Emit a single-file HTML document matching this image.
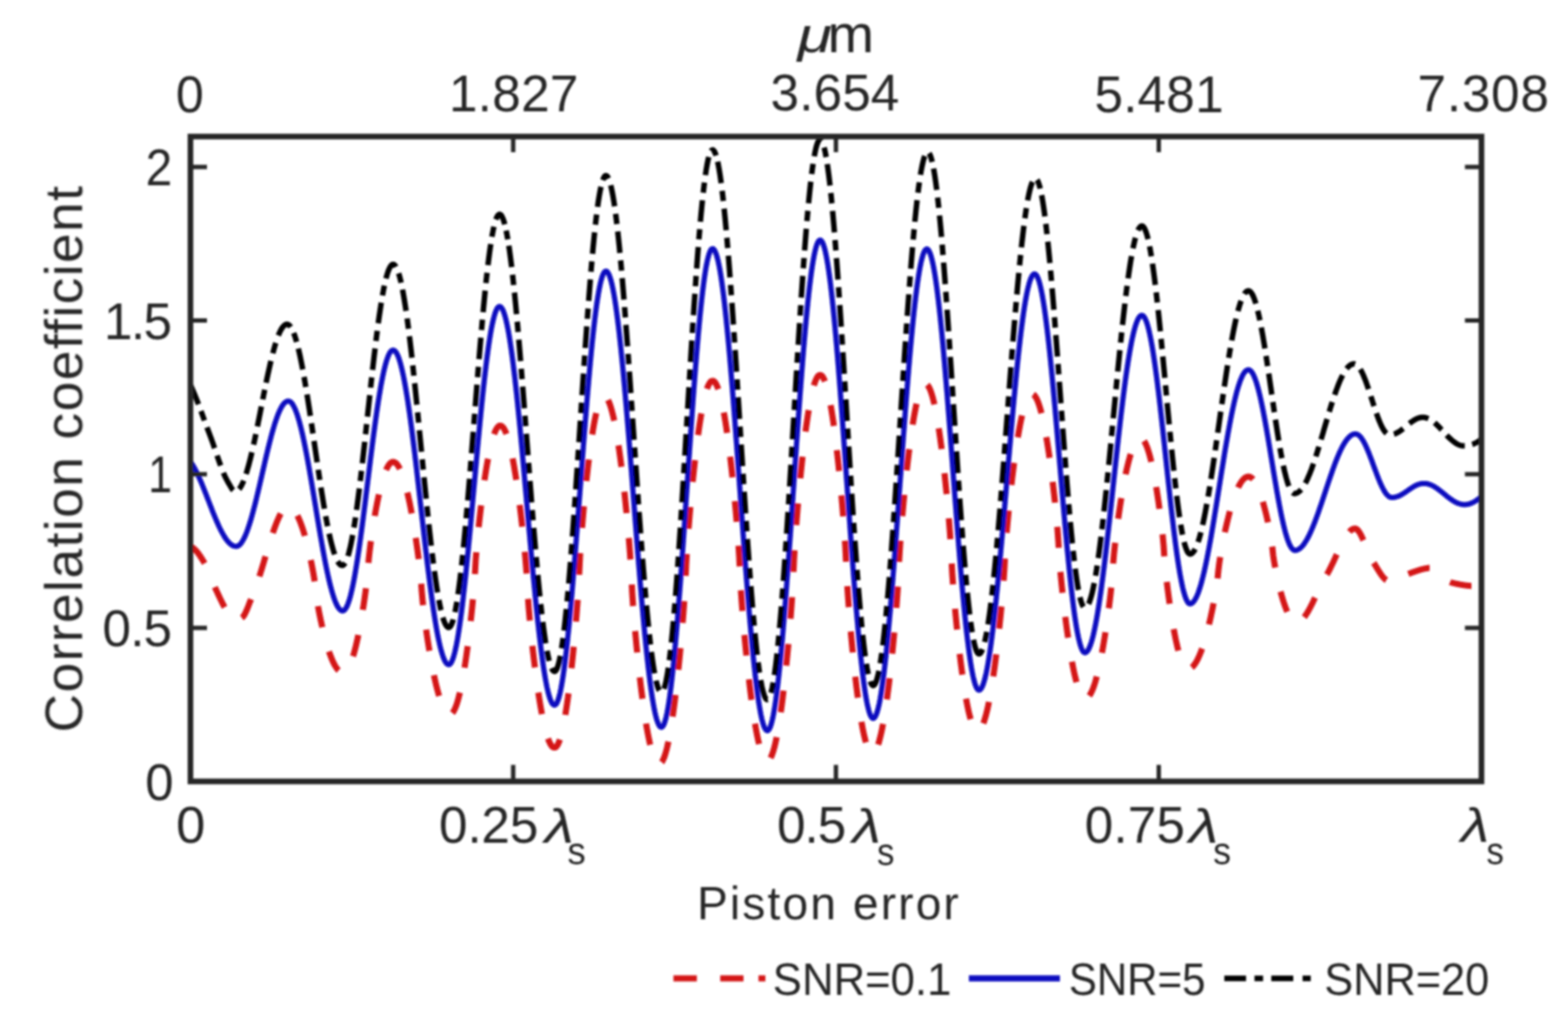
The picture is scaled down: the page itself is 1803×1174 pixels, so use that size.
<!DOCTYPE html><html><head><meta charset="utf-8"><title>Correlation coefficient vs piston error</title>
<style>html,body{margin:0;padding:0;background:#fff;overflow:hidden;}svg{display:block;}text{font-family:"Liberation Sans", "DejaVu Sans", sans-serif;fill:#262626;}</style></head><body>
<svg width="1803" height="1174" viewBox="0 0 1803 1174">
<rect width="1803" height="1174" fill="#fff"/>
<filter id="bl" x="0" y="0" width="100%" height="100%" filterUnits="userSpaceOnUse"><feGaussianBlur stdDeviation="1"/></filter>
<g filter="url(#bl)">
<defs><clipPath id="ax"><rect x="219.0" y="157.0" width="1484.5" height="741.5"/></clipPath></defs>
<g clip-path="url(#ax)" fill="none" stroke-linejoin="round">
<path d="M219.0 628.2 L220.0 628.8 L221.0 629.4 L222.0 630.1 L223.0 630.9 L224.0 631.8 L225.0 632.8 L226.0 633.9 L227.0 635.1 L228.0 636.4 L229.0 637.8 L230.0 639.2 L231.0 640.7 L232.0 642.3 L233.0 643.9 L234.0 645.5 L235.0 647.2 L236.0 648.9 L237.0 650.8 L238.0 652.9 L239.0 655.1 L240.0 657.5 L241.0 660.0 L242.0 662.5 L243.0 665.1 L244.0 667.6 L245.0 670.2 L246.0 672.6 L247.0 675.0 L248.0 677.2 L249.0 679.4 L250.0 681.5 L251.0 683.7 L252.0 685.8 L253.0 687.9 L254.0 690.0 L255.0 692.1 L256.0 694.0 L257.0 696.0 L258.0 697.8 L259.0 699.7 L260.0 701.7 L261.0 703.9 L262.0 706.0 L263.0 708.1 L264.0 710.0 L265.0 711.7 L266.0 713.0 L267.0 713.8 L268.0 714.1 L269.0 714.1 L270.0 713.9 L271.0 713.7 L272.0 713.4 L273.0 713.0 L274.0 712.6 L275.0 712.1 L276.0 711.5 L277.0 710.9 L278.0 710.3 L279.0 709.6 L280.0 708.5 L281.0 707.0 L282.0 705.1 L283.0 703.0 L284.0 700.7 L285.0 698.2 L286.0 695.7 L287.0 693.1 L288.0 690.6 L289.0 688.2 L290.0 685.9 L291.0 683.5 L292.0 681.0 L293.0 678.3 L294.0 675.6 L295.0 672.7 L296.0 669.8 L297.0 666.8 L298.0 663.7 L299.0 660.5 L300.0 657.3 L301.0 654.1 L302.0 650.8 L303.0 647.5 L304.0 644.1 L305.0 640.8 L306.0 637.5 L307.0 634.1 L308.0 630.8 L309.0 627.6 L310.0 624.3 L311.0 621.1 L312.0 618.0 L313.0 615.0 L314.0 612.0 L315.0 609.1 L316.0 606.3 L317.0 603.6 L318.0 601.0 L319.0 598.6 L320.0 596.3 L321.0 594.1 L322.0 592.1 L323.0 590.2 L324.0 588.6 L325.0 587.1 L326.0 585.7 L327.0 584.6 L328.0 583.7 L329.0 583.0 L330.0 582.6 L331.0 582.4 L332.0 582.4 L333.0 582.6 L334.0 583.0 L335.0 583.6 L336.0 584.3 L337.0 585.3 L338.0 586.5 L339.0 587.8 L340.0 589.3 L341.0 591.0 L342.0 592.9 L343.0 595.0 L344.0 597.2 L345.0 599.6 L346.0 602.2 L347.0 605.0 L348.0 607.9 L349.0 611.0 L350.0 614.3 L351.0 617.8 L352.0 621.4 L353.0 625.2 L354.0 629.2 L355.0 633.3 L356.0 637.7 L357.0 642.2 L358.0 647.0 L359.0 652.0 L360.0 657.4 L361.0 663.1 L362.0 669.6 L363.0 678.7 L364.0 686.9 L365.0 693.3 L366.0 699.0 L367.0 704.3 L368.0 709.3 L369.0 714.0 L370.0 718.6 L371.0 722.9 L372.0 727.0 L373.0 731.0 L374.0 734.8 L375.0 738.4 L376.0 741.8 L377.0 745.1 L378.0 748.2 L379.0 751.1 L380.0 753.8 L381.0 756.4 L382.0 758.8 L383.0 761.1 L384.0 763.1 L385.0 765.0 L386.0 766.6 L387.0 768.1 L388.0 769.5 L389.0 770.6 L390.0 771.5 L391.0 772.3 L392.0 772.9 L393.0 773.2 L394.0 773.4 L395.0 773.4 L396.0 773.1 L397.0 772.5 L398.0 771.7 L399.0 770.5 L400.0 769.1 L401.0 767.4 L402.0 765.4 L403.0 763.1 L404.0 760.5 L405.0 757.7 L406.0 754.6 L407.0 751.2 L408.0 747.5 L409.0 743.6 L410.0 739.4 L411.0 735.0 L412.0 730.3 L413.0 725.3 L414.0 720.1 L415.0 714.6 L416.0 708.8 L417.0 702.8 L418.0 696.4 L419.0 689.7 L420.0 682.6 L421.0 674.9 L422.0 666.4 L423.0 656.2 L424.0 642.9 L425.0 633.8 L426.0 625.8 L427.0 618.4 L428.0 611.5 L429.0 604.9 L430.0 598.7 L431.0 592.8 L432.0 587.2 L433.0 581.8 L434.0 576.7 L435.0 571.9 L436.0 567.3 L437.0 563.0 L438.0 559.0 L439.0 555.2 L440.0 551.7 L441.0 548.4 L442.0 545.4 L443.0 542.7 L444.0 540.3 L445.0 538.2 L446.0 536.3 L447.0 534.7 L448.0 533.4 L449.0 532.4 L450.0 531.7 L451.0 531.3 L452.0 531.1 L453.0 531.3 L454.0 531.7 L455.0 532.3 L456.0 533.3 L457.0 534.4 L458.0 535.9 L459.0 537.6 L460.0 539.6 L461.0 541.9 L462.0 544.4 L463.0 547.1 L464.0 550.1 L465.0 553.4 L466.0 556.9 L467.0 560.7 L468.0 564.7 L469.0 568.9 L470.0 573.4 L471.0 578.1 L472.0 583.1 L473.0 588.3 L474.0 593.8 L475.0 599.5 L476.0 605.4 L477.0 611.6 L478.0 618.1 L479.0 624.9 L480.0 632.0 L481.0 639.5 L482.0 647.5 L483.0 656.2 L484.0 666.0 L485.0 680.3 L486.0 691.4 L487.0 700.5 L488.0 708.8 L489.0 716.5 L490.0 723.8 L491.0 730.8 L492.0 737.4 L493.0 743.8 L494.0 749.8 L495.0 755.7 L496.0 761.2 L497.0 766.6 L498.0 771.7 L499.0 776.5 L500.0 781.1 L501.0 785.5 L502.0 789.6 L503.0 793.5 L504.0 797.1 L505.0 800.5 L506.0 803.7 L507.0 806.5 L508.0 809.2 L509.0 811.5 L510.0 813.7 L511.0 815.5 L512.0 817.1 L513.0 818.4 L514.0 819.5 L515.0 820.3 L516.0 820.8 L517.0 821.1 L518.0 821.1 L519.0 820.7 L520.0 819.9 L521.0 818.7 L522.0 817.2 L523.0 815.2 L524.0 812.9 L525.0 810.1 L526.0 807.0 L527.0 803.5 L528.0 799.7 L529.0 795.5 L530.0 790.9 L531.0 785.9 L532.0 780.6 L533.0 774.9 L534.0 768.9 L535.0 762.5 L536.0 755.7 L537.0 748.6 L538.0 741.1 L539.0 733.3 L540.0 725.1 L541.0 716.4 L542.0 707.3 L543.0 697.6 L544.0 687.2 L545.0 675.8 L546.0 662.3 L547.0 643.8 L548.0 631.2 L549.0 620.1 L550.0 610.0 L551.0 600.5 L552.0 591.5 L553.0 583.0 L554.0 574.9 L555.0 567.1 L556.0 559.8 L557.0 552.8 L558.0 546.2 L559.0 539.9 L560.0 533.9 L561.0 528.4 L562.0 523.2 L563.0 518.3 L564.0 513.8 L565.0 509.7 L566.0 505.9 L567.0 502.6 L568.0 499.6 L569.0 497.0 L570.0 494.7 L571.0 492.9 L572.0 491.4 L573.0 490.4 L574.0 489.7 L575.0 489.4 L576.0 489.6 L577.0 490.0 L578.0 490.9 L579.0 492.1 L580.0 493.8 L581.0 495.7 L582.0 498.1 L583.0 500.8 L584.0 503.9 L585.0 507.3 L586.0 511.1 L587.0 515.3 L588.0 519.8 L589.0 524.6 L590.0 529.8 L591.0 535.4 L592.0 541.3 L593.0 547.5 L594.0 554.1 L595.0 561.0 L596.0 568.2 L597.0 575.8 L598.0 583.8 L599.0 592.1 L600.0 600.8 L601.0 609.9 L602.0 619.5 L603.0 629.6 L604.0 640.5 L605.0 652.4 L606.0 666.4 L607.0 685.8 L608.0 699.2 L609.0 710.8 L610.0 721.5 L611.0 731.6 L612.0 741.1 L613.0 750.1 L614.0 758.7 L615.0 766.9 L616.0 774.8 L617.0 782.3 L618.0 789.5 L619.0 796.3 L620.0 802.8 L621.0 809.0 L622.0 814.8 L623.0 820.3 L624.0 825.4 L625.0 830.2 L626.0 834.7 L627.0 838.7 L628.0 842.5 L629.0 845.8 L630.0 848.9 L631.0 851.5 L632.0 853.8 L633.0 855.7 L634.0 857.2 L635.0 858.4 L636.0 859.2 L637.0 859.6 L638.0 859.6 L639.0 859.2 L640.0 858.2 L641.0 856.8 L642.0 854.9 L643.0 852.5 L644.0 849.6 L645.0 846.2 L646.0 842.4 L647.0 838.1 L648.0 833.3 L649.0 828.0 L650.0 822.3 L651.0 816.1 L652.0 809.5 L653.0 802.5 L654.0 794.9 L655.0 787.0 L656.0 778.6 L657.0 769.7 L658.0 760.4 L659.0 750.7 L660.0 740.4 L661.0 729.6 L662.0 718.1 L663.0 706.0 L664.0 692.9 L665.0 678.3 L666.0 659.4 L667.0 638.5 L668.0 623.7 L669.0 610.4 L670.0 598.2 L671.0 586.7 L672.0 575.8 L673.0 565.5 L674.0 555.7 L675.0 546.3 L676.0 537.4 L677.0 529.0 L678.0 521.0 L679.0 513.4 L680.0 506.3 L681.0 499.7 L682.0 493.5 L683.0 487.7 L684.0 482.4 L685.0 477.6 L686.0 473.2 L687.0 469.3 L688.0 465.9 L689.0 463.0 L690.0 460.5 L691.0 458.5 L692.0 457.1 L693.0 456.1 L694.0 455.6 L695.0 455.6 L696.0 456.0 L697.0 456.8 L698.0 458.1 L699.0 459.7 L700.0 461.8 L701.0 464.2 L702.0 467.1 L703.0 470.4 L704.0 474.1 L705.0 478.1 L706.0 482.6 L707.0 487.5 L708.0 492.7 L709.0 498.4 L710.0 504.4 L711.0 510.8 L712.0 517.5 L713.0 524.7 L714.0 532.2 L715.0 540.1 L716.0 548.3 L717.0 557.0 L718.0 566.0 L719.0 575.4 L720.0 585.3 L721.0 595.7 L722.0 606.6 L723.0 618.1 L724.0 630.5 L725.0 644.1 L726.0 660.6 L727.0 682.1 L728.0 696.8 L729.0 709.7 L730.0 721.6 L731.0 732.8 L732.0 743.4 L733.0 753.6 L734.0 763.2 L735.0 772.5 L736.0 781.3 L737.0 789.8 L738.0 797.8 L739.0 805.5 L740.0 812.8 L741.0 819.8 L742.0 826.4 L743.0 832.6 L744.0 838.4 L745.0 843.8 L746.0 848.9 L747.0 853.6 L748.0 857.8 L749.0 861.7 L750.0 865.2 L751.0 868.3 L752.0 870.9 L753.0 873.2 L754.0 875.1 L755.0 876.5 L756.0 877.5 L757.0 878.2 L758.0 878.4 L759.0 878.1 L760.0 877.4 L761.0 876.3 L762.0 874.7 L763.0 872.6 L764.0 870.1 L765.0 867.1 L766.0 863.6 L767.0 859.8 L768.0 855.4 L769.0 850.6 L770.0 845.4 L771.0 839.8 L772.0 833.7 L773.0 827.2 L774.0 820.3 L775.0 813.0 L776.0 805.2 L777.0 797.1 L778.0 788.5 L779.0 779.5 L780.0 770.0 L781.0 760.1 L782.0 749.8 L783.0 738.9 L784.0 727.5 L785.0 715.5 L786.0 702.6 L787.0 688.6 L788.0 672.6 L789.0 649.3 L790.0 632.1 L791.0 617.7 L792.0 604.5 L793.0 592.3 L794.0 580.7 L795.0 569.7 L796.0 559.2 L797.0 549.1 L798.0 539.6 L799.0 530.4 L800.0 521.7 L801.0 513.4 L802.0 505.5 L803.0 498.1 L804.0 491.0 L805.0 484.4 L806.0 478.2 L807.0 472.4 L808.0 467.1 L809.0 462.2 L810.0 457.7 L811.0 453.7 L812.0 450.1 L813.0 447.0 L814.0 444.3 L815.0 442.1 L816.0 440.4 L817.0 439.1 L818.0 438.3 L819.0 437.9 L820.0 438.0 L821.0 438.5 L822.0 439.4 L823.0 440.8 L824.0 442.7 L825.0 444.9 L826.0 447.6 L827.0 450.7 L828.0 454.2 L829.0 458.2 L830.0 462.5 L831.0 467.3 L832.0 472.5 L833.0 478.1 L834.0 484.0 L835.0 490.4 L836.0 497.2 L837.0 504.4 L838.0 512.0 L839.0 519.9 L840.0 528.3 L841.0 537.0 L842.0 546.2 L843.0 555.8 L844.0 565.8 L845.0 576.3 L846.0 587.3 L847.0 598.9 L848.0 611.2 L849.0 624.6 L850.0 639.7 L851.0 661.8 L852.0 679.3 L853.0 693.6 L854.0 706.5 L855.0 718.5 L856.0 729.9 L857.0 740.7 L858.0 751.0 L859.0 760.8 L860.0 770.2 L861.0 779.2 L862.0 787.8 L863.0 796.0 L864.0 803.8 L865.0 811.2 L866.0 818.2 L867.0 824.9 L868.0 831.1 L869.0 836.9 L870.0 842.3 L871.0 847.4 L872.0 852.0 L873.0 856.2 L874.0 859.9 L875.0 863.3 L876.0 866.2 L877.0 868.7 L878.0 870.8 L879.0 872.5 L880.0 873.7 L881.0 874.5 L882.0 874.8 L883.0 874.7 L884.0 874.1 L885.0 873.1 L886.0 871.6 L887.0 869.6 L888.0 867.1 L889.0 864.2 L890.0 860.8 L891.0 857.0 L892.0 852.6 L893.0 847.9 L894.0 842.7 L895.0 837.0 L896.0 830.9 L897.0 824.4 L898.0 817.4 L899.0 810.0 L900.0 802.2 L901.0 793.9 L902.0 785.2 L903.0 776.1 L904.0 766.5 L905.0 756.5 L906.0 746.0 L907.0 735.0 L908.0 723.4 L909.0 711.2 L910.0 698.1 L911.0 683.9 L912.0 667.7 L913.0 644.0 L914.0 626.6 L915.0 612.0 L916.0 598.6 L917.0 586.1 L918.0 574.4 L919.0 563.2 L920.0 552.6 L921.0 542.4 L922.0 532.7 L923.0 523.5 L924.0 514.6 L925.0 506.2 L926.0 498.3 L927.0 490.8 L928.0 483.7 L929.0 477.0 L930.0 470.8 L931.0 465.0 L932.0 459.6 L933.0 454.7 L934.0 450.3 L935.0 446.3 L936.0 442.7 L937.0 439.7 L938.0 437.1 L939.0 434.9 L940.0 433.3 L941.0 432.1 L942.0 431.4 L943.0 431.2 L944.0 431.4 L945.0 432.1 L946.0 433.3 L947.0 435.0 L948.0 437.1 L949.0 439.7 L950.0 442.8 L951.0 446.3 L952.0 450.3 L953.0 454.8 L954.0 459.7 L955.0 465.1 L956.0 470.9 L957.0 477.2 L958.0 483.8 L959.0 491.0 L960.0 498.5 L961.0 506.5 L962.0 514.9 L963.0 523.8 L964.0 533.1 L965.0 542.8 L966.0 553.0 L967.0 563.7 L968.0 575.0 L969.0 586.8 L970.0 599.4 L971.0 613.0 L972.0 628.2 L973.0 648.8 L974.0 669.3 L975.0 684.5 L976.0 698.1 L977.0 710.7 L978.0 722.6 L979.0 733.8 L980.0 744.5 L981.0 754.7 L982.0 764.4 L983.0 773.7 L984.0 782.6 L985.0 791.0 L986.0 799.0 L987.0 806.5 L988.0 813.7 L989.0 820.4 L990.0 826.6 L991.0 832.4 L992.0 837.8 L993.0 842.7 L994.0 847.2 L995.0 851.2 L996.0 854.7 L997.0 857.8 L998.0 860.4 L999.0 862.5 L1000.0 864.2 L1001.0 865.4 L1002.0 866.1 L1003.0 866.4 L1004.0 866.1 L1005.0 865.5 L1006.0 864.3 L1007.0 862.8 L1008.0 860.7 L1009.0 858.3 L1010.0 855.4 L1011.0 852.0 L1012.0 848.2 L1013.0 844.0 L1014.0 839.4 L1015.0 834.3 L1016.0 828.8 L1017.0 822.9 L1018.0 816.5 L1019.0 809.8 L1020.0 802.7 L1021.0 795.1 L1022.0 787.2 L1023.0 778.8 L1024.0 770.0 L1025.0 760.8 L1026.0 751.2 L1027.0 741.1 L1028.0 730.5 L1029.0 719.4 L1030.0 707.6 L1031.0 695.0 L1032.0 681.2 L1033.0 665.2 L1034.0 642.5 L1035.0 626.5 L1036.0 612.7 L1037.0 600.2 L1038.0 588.4 L1039.0 577.2 L1040.0 566.7 L1041.0 556.6 L1042.0 546.9 L1043.0 537.7 L1044.0 529.0 L1045.0 520.6 L1046.0 512.6 L1047.0 505.1 L1048.0 497.9 L1049.0 491.2 L1050.0 484.9 L1051.0 479.0 L1052.0 473.5 L1053.0 468.4 L1054.0 463.7 L1055.0 459.5 L1056.0 455.7 L1057.0 452.4 L1058.0 449.5 L1059.0 447.0 L1060.0 445.0 L1061.0 443.4 L1062.0 442.3 L1063.0 441.6 L1064.0 441.4 L1065.0 441.6 L1066.0 442.3 L1067.0 443.4 L1068.0 444.9 L1069.0 446.9 L1070.0 449.2 L1071.0 452.1 L1072.0 455.3 L1073.0 459.0 L1074.0 463.1 L1075.0 467.6 L1076.0 472.5 L1077.0 477.9 L1078.0 483.6 L1079.0 489.7 L1080.0 496.3 L1081.0 503.2 L1082.0 510.5 L1083.0 518.2 L1084.0 526.3 L1085.0 534.9 L1086.0 543.8 L1087.0 553.2 L1088.0 563.0 L1089.0 573.3 L1090.0 584.2 L1091.0 595.7 L1092.0 608.2 L1093.0 622.1 L1094.0 641.0 L1095.0 659.8 L1096.0 673.8 L1097.0 686.2 L1098.0 697.8 L1099.0 708.7 L1100.0 719.0 L1101.0 728.8 L1102.0 738.2 L1103.0 747.1 L1104.0 755.6 L1105.0 763.7 L1106.0 771.4 L1107.0 778.8 L1108.0 785.7 L1109.0 792.2 L1110.0 798.4 L1111.0 804.1 L1112.0 809.4 L1113.0 814.4 L1114.0 818.9 L1115.0 823.0 L1116.0 826.6 L1117.0 829.9 L1118.0 832.7 L1119.0 835.1 L1120.0 837.1 L1121.0 838.6 L1122.0 839.7 L1123.0 840.3 L1124.0 840.6 L1125.0 840.4 L1126.0 839.8 L1127.0 838.8 L1128.0 837.4 L1129.0 835.7 L1130.0 833.5 L1131.0 831.0 L1132.0 828.1 L1133.0 824.8 L1134.0 821.1 L1135.0 817.1 L1136.0 812.7 L1137.0 807.9 L1138.0 802.8 L1139.0 797.3 L1140.0 791.4 L1141.0 785.2 L1142.0 778.6 L1143.0 771.7 L1144.0 764.4 L1145.0 756.8 L1146.0 748.8 L1147.0 740.4 L1148.0 731.7 L1149.0 722.5 L1150.0 712.9 L1151.0 702.8 L1152.0 692.1 L1153.0 680.6 L1154.0 668.0 L1155.0 652.7 L1156.0 632.7 L1157.0 619.1 L1158.0 607.1 L1159.0 596.1 L1160.0 585.7 L1161.0 575.8 L1162.0 566.5 L1163.0 557.5 L1164.0 548.9 L1165.0 540.8 L1166.0 533.0 L1167.0 525.5 L1168.0 518.4 L1169.0 511.7 L1170.0 505.3 L1171.0 499.2 L1172.0 493.6 L1173.0 488.2 L1174.0 483.3 L1175.0 478.7 L1176.0 474.4 L1177.0 470.6 L1178.0 467.1 L1179.0 464.0 L1180.0 461.3 L1181.0 459.0 L1182.0 457.0 L1183.0 455.4 L1184.0 454.3 L1185.0 453.5 L1186.0 453.1 L1187.0 453.1 L1188.0 453.5 L1189.0 454.2 L1190.0 455.3 L1191.0 456.7 L1192.0 458.6 L1193.0 460.7 L1194.0 463.3 L1195.0 466.2 L1196.0 469.4 L1197.0 473.0 L1198.0 476.9 L1199.0 481.2 L1200.0 485.9 L1201.0 490.8 L1202.0 496.1 L1203.0 501.7 L1204.0 507.7 L1205.0 514.0 L1206.0 520.6 L1207.0 527.6 L1208.0 534.8 L1209.0 542.5 L1210.0 550.5 L1211.0 558.8 L1212.0 567.6 L1213.0 576.8 L1214.0 586.6 L1215.0 597.1 L1216.0 608.7 L1217.0 622.7 L1218.0 641.0 L1219.0 653.4 L1220.0 664.4 L1221.0 674.5 L1222.0 684.0 L1223.0 693.0 L1224.0 701.6 L1225.0 709.8 L1226.0 717.6 L1227.0 725.0 L1228.0 732.1 L1229.0 738.9 L1230.0 745.4 L1231.0 751.5 L1232.0 757.3 L1233.0 762.7 L1234.0 767.9 L1235.0 772.7 L1236.0 777.1 L1237.0 781.2 L1238.0 785.0 L1239.0 788.4 L1240.0 791.5 L1241.0 794.2 L1242.0 796.6 L1243.0 798.6 L1244.0 800.2 L1245.0 801.5 L1246.0 802.4 L1247.0 802.9 L1248.0 803.1 L1249.0 803.0 L1250.0 802.5 L1251.0 801.8 L1252.0 800.8 L1253.0 799.4 L1254.0 797.8 L1255.0 795.9 L1256.0 793.7 L1257.0 791.3 L1258.0 788.5 L1259.0 785.5 L1260.0 782.1 L1261.0 778.5 L1262.0 774.7 L1263.0 770.5 L1264.0 766.1 L1265.0 761.4 L1266.0 756.5 L1267.0 751.3 L1268.0 745.8 L1269.0 740.0 L1270.0 734.0 L1271.0 727.7 L1272.0 721.1 L1273.0 714.3 L1274.0 707.1 L1275.0 699.5 L1276.0 691.5 L1277.0 683.0 L1278.0 673.7 L1279.0 663.1 L1280.0 647.7 L1281.0 636.3 L1282.0 626.8 L1283.0 618.0 L1284.0 609.9 L1285.0 602.2 L1286.0 594.9 L1287.0 587.9 L1288.0 581.3 L1289.0 574.9 L1290.0 568.8 L1291.0 563.0 L1292.0 557.4 L1293.0 552.1 L1294.0 547.1 L1295.0 542.3 L1296.0 537.8 L1297.0 533.6 L1298.0 529.6 L1299.0 526.0 L1300.0 522.6 L1301.0 519.4 L1302.0 516.6 L1303.0 514.0 L1304.0 511.7 L1305.0 509.8 L1306.0 508.1 L1307.0 506.6 L1308.0 505.5 L1309.0 504.7 L1310.0 504.2 L1311.0 503.9 L1312.0 504.0 L1313.0 504.4 L1314.0 505.2 L1315.0 506.3 L1316.0 507.8 L1317.0 509.6 L1318.0 511.7 L1319.0 514.2 L1320.0 517.1 L1321.0 520.2 L1322.0 523.7 L1323.0 527.5 L1324.0 531.7 L1325.0 536.2 L1326.0 540.9 L1327.0 546.0 L1328.0 551.5 L1329.0 557.2 L1330.0 563.2 L1331.0 569.6 L1332.0 576.3 L1333.0 583.4 L1334.0 590.9 L1335.0 598.8 L1336.0 607.2 L1337.0 616.5 L1338.0 627.0 L1339.0 642.4 L1340.0 653.7 L1341.0 663.2 L1342.0 671.9 L1343.0 679.9 L1344.0 687.5 L1345.0 694.7 L1346.0 701.5 L1347.0 708.0 L1348.0 714.2 L1349.0 720.0 L1350.0 725.5 L1351.0 730.7 L1352.0 735.6 L1353.0 740.1 L1354.0 744.4 L1355.0 748.3 L1356.0 751.9 L1357.0 755.2 L1358.0 758.1 L1359.0 760.7 L1360.0 762.9 L1361.0 764.8 L1362.0 766.4 L1363.0 767.6 L1364.0 768.5 L1365.0 769.0 L1366.0 769.2 L1367.0 769.1 L1368.0 768.8 L1369.0 768.4 L1370.0 767.8 L1371.0 767.0 L1372.0 766.0 L1373.0 764.8 L1374.0 763.5 L1375.0 761.9 L1376.0 760.2 L1377.0 758.4 L1378.0 756.3 L1379.0 754.1 L1380.0 751.7 L1381.0 749.2 L1382.0 746.4 L1383.0 743.6 L1384.0 740.5 L1385.0 737.3 L1386.0 733.9 L1387.0 730.4 L1388.0 726.7 L1389.0 722.8 L1390.0 718.8 L1391.0 714.6 L1392.0 710.2 L1393.0 705.6 L1394.0 700.9 L1395.0 695.9 L1396.0 690.7 L1397.0 685.3 L1398.0 679.5 L1399.0 673.2 L1400.0 666.0 L1401.0 655.6 L1402.0 647.5 L1403.0 640.9 L1404.0 634.9 L1405.0 629.2 L1406.0 623.9 L1407.0 618.8 L1408.0 614.0 L1409.0 609.3 L1410.0 604.9 L1411.0 600.6 L1412.0 596.5 L1413.0 592.5 L1414.0 588.7 L1415.0 585.1 L1416.0 581.7 L1417.0 578.4 L1418.0 575.2 L1419.0 572.3 L1420.0 569.5 L1421.0 566.8 L1422.0 564.4 L1423.0 562.1 L1424.0 559.9 L1425.0 558.0 L1426.0 556.2 L1427.0 554.6 L1428.0 553.1 L1429.0 551.9 L1430.0 550.8 L1431.0 549.9 L1432.0 549.2 L1433.0 548.6 L1434.0 548.3 L1435.0 548.1 L1436.0 548.1 L1437.0 548.3 L1438.0 548.7 L1439.0 549.4 L1440.0 550.2 L1441.0 551.3 L1442.0 552.6 L1443.0 554.1 L1444.0 555.8 L1445.0 557.7 L1446.0 559.8 L1447.0 562.1 L1448.0 564.6 L1449.0 567.3 L1450.0 570.2 L1451.0 573.3 L1452.0 576.6 L1453.0 580.1 L1454.0 583.8 L1455.0 587.7 L1456.0 591.7 L1457.0 596.0 L1458.0 600.6 L1459.0 605.3 L1460.0 610.4 L1461.0 615.9 L1462.0 621.9 L1463.0 629.2 L1464.0 638.7 L1465.0 645.2 L1466.0 650.9 L1467.0 656.1 L1468.0 661.0 L1469.0 665.7 L1470.0 670.1 L1471.0 674.3 L1472.0 678.2 L1473.0 682.0 L1474.0 685.6 L1475.0 689.0 L1476.0 692.2 L1477.0 695.2 L1478.0 698.0 L1479.0 700.6 L1480.0 703.0 L1481.0 705.2 L1482.0 707.2 L1483.0 709.0 L1484.0 710.6 L1485.0 712.0 L1486.0 713.2 L1487.0 714.2 L1488.0 714.9 L1489.0 715.4 L1490.0 715.8 L1491.0 715.9 L1492.0 715.8 L1493.0 715.5 L1494.0 715.1 L1495.0 714.5 L1496.0 713.7 L1497.0 712.8 L1498.0 711.8 L1499.0 710.6 L1500.0 709.3 L1501.0 707.9 L1502.0 706.4 L1503.0 704.8 L1504.0 703.2 L1505.0 701.4 L1506.0 699.6 L1507.0 697.7 L1508.0 695.7 L1509.0 693.7 L1510.0 691.7 L1511.0 689.6 L1512.0 687.5 L1513.0 685.4 L1514.0 683.3 L1515.0 681.1 L1516.0 679.0 L1517.0 676.9 L1518.0 674.9 L1519.0 672.8 L1520.0 670.9 L1521.0 668.9 L1522.0 667.0 L1523.0 665.2 L1524.0 663.5 L1525.0 661.8 L1526.0 660.2 L1527.0 658.4 L1528.0 656.6 L1529.0 654.6 L1530.0 652.7 L1531.0 650.6 L1532.0 648.5 L1533.0 646.4 L1534.0 644.3 L1535.0 642.1 L1536.0 639.9 L1537.0 637.7 L1538.0 635.6 L1539.0 633.4 L1540.0 631.3 L1541.0 629.2 L1542.0 627.1 L1543.0 625.1 L1544.0 623.2 L1545.0 621.3 L1546.0 619.5 L1547.0 617.8 L1548.0 616.2 L1549.0 614.8 L1550.0 613.4 L1551.0 612.2 L1552.0 611.0 L1553.0 610.1 L1554.0 609.3 L1555.0 608.6 L1556.0 608.2 L1557.0 607.9 L1558.0 607.8 L1559.0 608.0 L1560.0 608.5 L1561.0 609.3 L1562.0 610.5 L1563.0 611.9 L1564.0 613.5 L1565.0 615.4 L1566.0 617.4 L1567.0 619.6 L1568.0 621.9 L1569.0 624.2 L1570.0 626.7 L1571.0 629.1 L1572.0 631.6 L1573.0 634.0 L1574.0 636.4 L1575.0 638.6 L1576.0 640.8 L1577.0 642.8 L1578.0 644.6 L1579.0 646.3 L1580.0 647.8 L1581.0 649.4 L1582.0 651.0 L1583.0 652.7 L1584.0 654.3 L1585.0 655.9 L1586.0 657.5 L1587.0 659.0 L1588.0 660.5 L1589.0 661.9 L1590.0 663.2 L1591.0 664.4 L1592.0 665.4 L1593.0 666.3 L1594.0 667.1 L1595.0 667.6 L1596.0 668.1 L1597.0 668.5 L1598.0 668.8 L1599.0 669.1 L1600.0 669.4 L1601.0 669.5 L1602.0 669.6 L1603.0 669.5 L1604.0 669.3 L1605.0 669.0 L1606.0 668.6 L1607.0 668.1 L1608.0 667.5 L1609.0 666.9 L1610.0 666.2 L1611.0 665.5 L1612.0 664.7 L1613.0 664.0 L1614.0 663.2 L1615.0 662.5 L1616.0 661.8 L1617.0 661.2 L1618.0 660.6 L1619.0 660.1 L1620.0 659.7 L1621.0 659.3 L1622.0 659.0 L1623.0 658.6 L1624.0 658.2 L1625.0 657.9 L1626.0 657.5 L1627.0 657.2 L1628.0 656.8 L1629.0 656.5 L1630.0 656.1 L1631.0 655.8 L1632.0 655.5 L1633.0 655.2 L1634.0 654.9 L1635.0 654.6 L1636.0 654.4 L1637.0 654.1 L1638.0 653.9 L1639.0 653.7 L1640.0 653.5 L1641.0 653.4 L1642.0 653.2 L1643.0 653.1 L1644.0 653.1 L1645.0 653.0 L1646.0 653.0 L1647.0 653.1 L1648.0 653.3 L1649.0 653.7 L1650.0 654.3 L1651.0 654.9 L1652.0 655.7 L1653.0 656.6 L1654.0 657.5 L1655.0 658.5 L1656.0 659.5 L1657.0 660.6 L1658.0 661.6 L1659.0 662.7 L1660.0 663.7 L1661.0 664.7 L1662.0 665.7 L1663.0 666.6 L1664.0 667.4 L1665.0 668.2 L1666.0 668.8 L1667.0 669.2 L1668.0 669.6 L1669.0 669.9 L1670.0 670.1 L1671.0 670.4 L1672.0 670.6 L1673.0 670.9 L1674.0 671.1 L1675.0 671.3 L1676.0 671.5 L1677.0 671.7 L1678.0 671.9 L1679.0 672.1 L1680.0 672.3 L1681.0 672.5 L1682.0 672.6 L1683.0 672.8 L1684.0 672.9 L1685.0 673.1 L1686.0 673.2 L1687.0 673.3 L1688.0 673.4 L1689.0 673.5 L1690.0 673.6 L1691.0 673.7 L1692.0 673.7 L1693.0 673.8 L1694.0 673.8 L1695.0 673.8 L1696.0 673.9 L1697.0 673.9 L1698.0 673.9 L1699.0 673.9 L1700.0 674.0 L1701.0 674.0 L1702.0 674.0 L1703.0 674.0" stroke="#d41219" stroke-width="7" stroke-dasharray="25.7 29.9 25.7 29.9 24.1 28.0 24.1 28.0 24.1 28.0 24.8 28.8 24.8 28.8 24.8 28.8 24.8 28.8 25.2 29.3 25.2 29.3 25.2 29.3 25.2 29.3 24.6 28.5 24.6 28.5 24.6 28.5 24.6 28.5 24.6 28.5 24.6 28.5 25.1 29.1 25.1 29.1 25.1 29.1 25.1 29.1 25.1 29.1 25.1 29.1 25.1 29.1 25.1 29.1 25.1 29.1 25.1 29.1 25.1 29.1 25.1 29.1 25.1 29.1 25.0 29.0 25.0 29.0 25.0 29.0 25.0 29.0 25.0 29.0 25.0 29.0 25.0 29.0 25.0 29.0 24.8 28.8 24.8 28.8 24.8 28.8 24.8 28.8 24.8 28.8 24.8 28.8 24.8 28.8 24.8 28.8 25.1 29.1 25.1 29.1 25.1 29.1 25.1 29.1 25.1 29.1 25.1 29.1 25.1 29.1 25.1 29.1 23.8 27.6 23.8 27.6 23.8 27.6 23.8 27.6 23.8 27.6 23.8 27.6 23.8 27.6 23.8 27.6 23.8 27.6 25.0 29.0 25.0 29.0 25.0 29.0 25.0 29.0 25.0 29.0 25.0 29.0 25.0 29.0 25.0 29.0 24.2 28.1 24.2 28.1 24.2 28.1 24.2 28.1 24.2 28.1 24.2 28.1 24.2 28.1 24.2 28.1 24.2 28.1 24.5 28.4 24.5 28.4 24.5 28.4 24.5 28.4 24.5 28.4 24.5 28.4 24.5 28.4 24.5 28.4 24.1 28.0 24.1 28.0 24.1 28.0 24.1 28.0 24.1 28.0 24.1 28.0 24.1 28.0 24.1 28.0 25.6 29.7 25.6 29.7 25.6 29.7 25.6 29.7 25.6 29.7 25.6 29.7 25.6 29.7 24.1 27.9 24.1 27.9 24.1 27.9 24.1 27.9 24.1 27.9 24.1 27.9 24.1 27.9 24.0 27.8 24.0 27.8 24.0 27.8 24.0 27.8 24.0 27.8 24.0 27.8 25.4 29.5 25.4 29.5 25.4 29.5 25.4 29.5 25.4 29.5 24.9 28.9 24.9 28.9 24.9 28.9 24.9 28.9 24.4 28.3 24.4 28.3 24.4 28.3 24.4 28.3 25.8 29.9 25.8 29.9 24.7 28.6 24.7 28.6 25.5 29.6 25.0 29.0 25.0 29.0"/>
<path d="M219.0 530.9 L220.0 532.3 L221.0 533.8 L222.0 535.4 L223.0 537.1 L224.0 538.9 L225.0 540.8 L226.0 542.8 L227.0 544.9 L228.0 547.0 L229.0 549.2 L230.0 551.5 L231.0 553.8 L232.0 556.2 L233.0 558.6 L234.0 561.1 L235.0 563.6 L236.0 566.1 L237.0 568.7 L238.0 571.3 L239.0 573.9 L240.0 576.5 L241.0 579.0 L242.0 581.6 L243.0 584.2 L244.0 586.8 L245.0 589.3 L246.0 591.8 L247.0 594.2 L248.0 596.6 L249.0 599.0 L250.0 601.3 L251.0 603.5 L252.0 605.7 L253.0 607.8 L254.0 609.8 L255.0 611.7 L256.0 613.6 L257.0 615.3 L258.0 617.0 L259.0 618.5 L260.0 620.0 L261.0 621.3 L262.0 622.6 L263.0 623.7 L264.0 624.7 L265.0 625.6 L266.0 626.3 L267.0 627.0 L268.0 627.5 L269.0 627.9 L270.0 628.1 L271.0 628.2 L272.0 628.2 L273.0 628.0 L274.0 627.5 L275.0 626.9 L276.0 626.0 L277.0 624.8 L278.0 623.5 L279.0 621.9 L280.0 620.1 L281.0 618.1 L282.0 616.0 L283.0 613.6 L284.0 611.0 L285.0 608.2 L286.0 605.3 L287.0 602.2 L288.0 599.0 L289.0 595.6 L290.0 592.0 L291.0 588.4 L292.0 584.6 L293.0 580.7 L294.0 576.7 L295.0 572.6 L296.0 568.4 L297.0 564.2 L298.0 559.9 L299.0 555.6 L300.0 551.3 L301.0 546.9 L302.0 542.5 L303.0 538.2 L304.0 533.8 L305.0 529.5 L306.0 525.2 L307.0 521.0 L308.0 516.8 L309.0 512.7 L310.0 508.8 L311.0 504.9 L312.0 501.1 L313.0 497.4 L314.0 493.9 L315.0 490.5 L316.0 487.2 L317.0 484.1 L318.0 481.2 L319.0 478.4 L320.0 475.9 L321.0 473.5 L322.0 471.3 L323.0 469.3 L324.0 467.5 L325.0 466.0 L326.0 464.6 L327.0 463.5 L328.0 462.6 L329.0 461.9 L330.0 461.4 L331.0 461.2 L332.0 461.2 L333.0 461.5 L334.0 462.1 L335.0 463.0 L336.0 464.2 L337.0 465.8 L338.0 467.6 L339.0 469.6 L340.0 472.0 L341.0 474.7 L342.0 477.6 L343.0 480.8 L344.0 484.2 L345.0 487.9 L346.0 491.8 L347.0 496.0 L348.0 500.3 L349.0 504.9 L350.0 509.7 L351.0 514.6 L352.0 519.8 L353.0 525.0 L354.0 530.4 L355.0 536.0 L356.0 541.7 L357.0 547.4 L358.0 553.3 L359.0 559.2 L360.0 565.2 L361.0 571.2 L362.0 577.3 L363.0 583.3 L364.0 589.4 L365.0 595.4 L366.0 601.4 L367.0 607.4 L368.0 613.3 L369.0 619.1 L370.0 624.8 L371.0 630.4 L372.0 635.9 L373.0 641.3 L374.0 646.5 L375.0 651.5 L376.0 656.3 L377.0 661.0 L378.0 665.5 L379.0 669.8 L380.0 673.8 L381.0 677.6 L382.0 681.2 L383.0 684.5 L384.0 687.5 L385.0 690.3 L386.0 692.8 L387.0 695.1 L388.0 697.0 L389.0 698.7 L390.0 700.0 L391.0 701.1 L392.0 701.8 L393.0 702.3 L394.0 702.4 L395.0 702.2 L396.0 701.6 L397.0 700.5 L398.0 698.9 L399.0 697.0 L400.0 694.6 L401.0 691.8 L402.0 688.6 L403.0 685.0 L404.0 681.0 L405.0 676.6 L406.0 671.9 L407.0 666.8 L408.0 661.4 L409.0 655.6 L410.0 649.6 L411.0 643.2 L412.0 636.6 L413.0 629.8 L414.0 622.7 L415.0 615.5 L416.0 608.0 L417.0 600.4 L418.0 592.6 L419.0 584.7 L420.0 576.8 L421.0 568.7 L422.0 560.6 L423.0 552.5 L424.0 544.4 L425.0 536.3 L426.0 528.2 L427.0 520.3 L428.0 512.4 L429.0 504.6 L430.0 497.0 L431.0 489.5 L432.0 482.3 L433.0 475.2 L434.0 468.3 L435.0 461.7 L436.0 455.4 L437.0 449.4 L438.0 443.6 L439.0 438.2 L440.0 433.1 L441.0 428.4 L442.0 424.0 L443.0 420.0 L444.0 416.4 L445.0 413.2 L446.0 410.4 L447.0 408.0 L448.0 406.0 L449.0 404.5 L450.0 403.4 L451.0 402.8 L452.0 402.5 L453.0 402.8 L454.0 403.4 L455.0 404.5 L456.0 406.0 L457.0 408.0 L458.0 410.3 L459.0 413.1 L460.0 416.3 L461.0 419.9 L462.0 423.9 L463.0 428.3 L464.0 433.0 L465.0 438.1 L466.0 443.6 L467.0 449.4 L468.0 455.5 L469.0 461.9 L470.0 468.7 L471.0 475.7 L472.0 482.9 L473.0 490.4 L474.0 498.1 L475.0 506.1 L476.0 514.2 L477.0 522.5 L478.0 530.9 L479.0 539.5 L480.0 548.1 L481.0 556.9 L482.0 565.7 L483.0 574.5 L484.0 583.4 L485.0 592.3 L486.0 601.1 L487.0 609.9 L488.0 618.7 L489.0 627.3 L490.0 635.9 L491.0 644.3 L492.0 652.6 L493.0 660.7 L494.0 668.7 L495.0 676.4 L496.0 683.9 L497.0 691.1 L498.0 698.1 L499.0 704.9 L500.0 711.3 L501.0 717.4 L502.0 723.2 L503.0 728.7 L504.0 733.8 L505.0 738.5 L506.0 742.9 L507.0 746.9 L508.0 750.5 L509.0 753.7 L510.0 756.5 L511.0 758.8 L512.0 760.8 L513.0 762.3 L514.0 763.4 L515.0 764.0 L516.0 764.3 L517.0 764.0 L518.0 763.1 L519.0 761.6 L520.0 759.5 L521.0 756.9 L522.0 753.6 L523.0 749.8 L524.0 745.5 L525.0 740.6 L526.0 735.2 L527.0 729.2 L528.0 722.8 L529.0 715.9 L530.0 708.6 L531.0 700.8 L532.0 692.6 L533.0 684.0 L534.0 675.0 L535.0 665.7 L536.0 656.1 L537.0 646.2 L538.0 636.1 L539.0 625.7 L540.0 615.2 L541.0 604.5 L542.0 593.6 L543.0 582.6 L544.0 571.6 L545.0 560.5 L546.0 549.5 L547.0 538.4 L548.0 527.4 L549.0 516.5 L550.0 505.7 L551.0 495.1 L552.0 484.7 L553.0 474.4 L554.0 464.4 L555.0 454.7 L556.0 445.3 L557.0 436.2 L558.0 427.5 L559.0 419.1 L560.0 411.1 L561.0 403.6 L562.0 396.5 L563.0 389.9 L564.0 383.8 L565.0 378.1 L566.0 373.0 L567.0 368.5 L568.0 364.5 L569.0 361.0 L570.0 358.1 L571.0 355.8 L572.0 354.1 L573.0 353.0 L574.0 352.4 L575.0 352.5 L576.0 353.1 L577.0 354.3 L578.0 356.0 L579.0 358.3 L580.0 361.2 L581.0 364.6 L582.0 368.5 L583.0 373.0 L584.0 378.0 L585.0 383.5 L586.0 389.4 L587.0 395.9 L588.0 402.8 L589.0 410.1 L590.0 417.9 L591.0 426.1 L592.0 434.7 L593.0 443.6 L594.0 452.8 L595.0 462.4 L596.0 472.3 L597.0 482.5 L598.0 492.8 L599.0 503.5 L600.0 514.3 L601.0 525.2 L602.0 536.3 L603.0 547.6 L604.0 558.9 L605.0 570.2 L606.0 581.6 L607.0 593.0 L608.0 604.4 L609.0 615.7 L610.0 626.9 L611.0 638.0 L612.0 649.0 L613.0 659.8 L614.0 670.4 L615.0 680.8 L616.0 691.0 L617.0 700.8 L618.0 710.4 L619.0 719.7 L620.0 728.6 L621.0 737.2 L622.0 745.3 L623.0 753.1 L624.0 760.5 L625.0 767.4 L626.0 773.8 L627.0 779.8 L628.0 785.3 L629.0 790.3 L630.0 794.7 L631.0 798.7 L632.0 802.1 L633.0 804.9 L634.0 807.2 L635.0 809.0 L636.0 810.2 L637.0 810.8 L638.0 810.8 L639.0 810.2 L640.0 808.9 L641.0 806.8 L642.0 804.1 L643.0 800.7 L644.0 796.6 L645.0 791.8 L646.0 786.4 L647.0 780.4 L648.0 773.7 L649.0 766.5 L650.0 758.6 L651.0 750.2 L652.0 741.3 L653.0 731.8 L654.0 721.9 L655.0 711.5 L656.0 700.7 L657.0 689.5 L658.0 678.0 L659.0 666.1 L660.0 653.9 L661.0 641.5 L662.0 628.8 L663.0 615.9 L664.0 602.9 L665.0 589.8 L666.0 576.6 L667.0 563.3 L668.0 550.1 L669.0 536.8 L670.0 523.7 L671.0 510.6 L672.0 497.7 L673.0 485.0 L674.0 472.4 L675.0 460.2 L676.0 448.2 L677.0 436.5 L678.0 425.2 L679.0 414.3 L680.0 403.8 L681.0 393.7 L682.0 384.1 L683.0 375.1 L684.0 366.5 L685.0 358.5 L686.0 351.0 L687.0 344.2 L688.0 338.0 L689.0 332.4 L690.0 327.4 L691.0 323.1 L692.0 319.5 L693.0 316.6 L694.0 314.3 L695.0 312.8 L696.0 311.9 L697.0 311.8 L698.0 312.3 L699.0 313.4 L700.0 315.2 L701.0 317.6 L702.0 320.6 L703.0 324.3 L704.0 328.5 L705.0 333.4 L706.0 338.8 L707.0 344.8 L708.0 351.3 L709.0 358.4 L710.0 366.0 L711.0 374.1 L712.0 382.7 L713.0 391.8 L714.0 401.3 L715.0 411.2 L716.0 421.5 L717.0 432.2 L718.0 443.3 L719.0 454.6 L720.0 466.3 L721.0 478.2 L722.0 490.3 L723.0 502.6 L724.0 515.1 L725.0 527.8 L726.0 540.6 L727.0 553.4 L728.0 566.3 L729.0 579.2 L730.0 592.1 L731.0 605.0 L732.0 617.7 L733.0 630.4 L734.0 643.0 L735.0 655.3 L736.0 667.5 L737.0 679.5 L738.0 691.2 L739.0 702.6 L740.0 713.7 L741.0 724.4 L742.0 734.8 L743.0 744.8 L744.0 754.4 L745.0 763.6 L746.0 772.3 L747.0 780.5 L748.0 788.2 L749.0 795.4 L750.0 802.0 L751.0 808.1 L752.0 813.7 L753.0 818.6 L754.0 823.0 L755.0 826.8 L756.0 829.9 L757.0 832.4 L758.0 834.3 L759.0 835.6 L760.0 836.2 L761.0 836.2 L762.0 835.4 L763.0 833.9 L764.0 831.5 L765.0 828.4 L766.0 824.5 L767.0 819.9 L768.0 814.5 L769.0 808.4 L770.0 801.6 L771.0 794.1 L772.0 786.0 L773.0 777.2 L774.0 767.8 L775.0 757.8 L776.0 747.2 L777.0 736.1 L778.0 724.6 L779.0 712.5 L780.0 700.0 L781.0 687.1 L782.0 673.9 L783.0 660.3 L784.0 646.5 L785.0 632.4 L786.0 618.1 L787.0 603.6 L788.0 589.0 L789.0 574.4 L790.0 559.7 L791.0 545.0 L792.0 530.3 L793.0 515.8 L794.0 501.3 L795.0 487.1 L796.0 473.0 L797.0 459.2 L798.0 445.7 L799.0 432.6 L800.0 419.8 L801.0 407.3 L802.0 395.4 L803.0 383.9 L804.0 372.9 L805.0 362.4 L806.0 352.6 L807.0 343.3 L808.0 334.6 L809.0 326.6 L810.0 319.2 L811.0 312.6 L812.0 306.6 L813.0 301.4 L814.0 296.9 L815.0 293.2 L816.0 290.2 L817.0 288.0 L818.0 286.6 L819.0 286.0 L820.0 286.1 L821.0 287.0 L822.0 288.5 L823.0 290.7 L824.0 293.5 L825.0 297.1 L826.0 301.3 L827.0 306.1 L828.0 311.6 L829.0 317.8 L830.0 324.5 L831.0 331.8 L832.0 339.7 L833.0 348.2 L834.0 357.1 L835.0 366.6 L836.0 376.6 L837.0 387.1 L838.0 398.0 L839.0 409.3 L840.0 421.0 L841.0 433.0 L842.0 445.3 L843.0 458.0 L844.0 470.9 L845.0 484.1 L846.0 497.4 L847.0 510.9 L848.0 524.5 L849.0 538.2 L850.0 552.0 L851.0 565.9 L852.0 579.7 L853.0 593.4 L854.0 607.1 L855.0 620.7 L856.0 634.1 L857.0 647.4 L858.0 660.5 L859.0 673.3 L860.0 685.8 L861.0 698.0 L862.0 709.9 L863.0 721.5 L864.0 732.6 L865.0 743.3 L866.0 753.6 L867.0 763.4 L868.0 772.7 L869.0 781.5 L870.0 789.7 L871.0 797.4 L872.0 804.5 L873.0 810.9 L874.0 816.8 L875.0 822.1 L876.0 826.7 L877.0 830.6 L878.0 833.9 L879.0 836.5 L880.0 838.4 L881.0 839.6 L882.0 840.2 L883.0 840.0 L884.0 839.1 L885.0 837.5 L886.0 835.1 L887.0 831.9 L888.0 828.0 L889.0 823.4 L890.0 818.1 L891.0 812.1 L892.0 805.4 L893.0 798.1 L894.0 790.1 L895.0 781.4 L896.0 772.2 L897.0 762.4 L898.0 752.1 L899.0 741.3 L900.0 729.9 L901.0 718.1 L902.0 705.9 L903.0 693.2 L904.0 680.2 L905.0 666.9 L906.0 653.3 L907.0 639.5 L908.0 625.4 L909.0 611.1 L910.0 596.7 L911.0 582.2 L912.0 567.6 L913.0 553.0 L914.0 538.5 L915.0 523.9 L916.0 509.5 L917.0 495.2 L918.0 481.0 L919.0 467.1 L920.0 453.4 L921.0 440.0 L922.0 426.9 L923.0 414.2 L924.0 401.8 L925.0 389.9 L926.0 378.4 L927.0 367.4 L928.0 356.9 L929.0 346.9 L930.0 337.5 L931.0 328.7 L932.0 320.6 L933.0 313.0 L934.0 306.1 L935.0 299.9 L936.0 294.4 L937.0 289.6 L938.0 285.5 L939.0 282.1 L940.0 279.5 L941.0 277.6 L942.0 276.5 L943.0 276.1 L944.0 276.4 L945.0 277.5 L946.0 279.3 L947.0 281.9 L948.0 285.1 L949.0 289.1 L950.0 293.8 L951.0 299.1 L952.0 305.1 L953.0 311.7 L954.0 319.0 L955.0 326.9 L956.0 335.4 L957.0 344.5 L958.0 354.1 L959.0 364.3 L960.0 374.9 L961.0 386.0 L962.0 397.6 L963.0 409.5 L964.0 421.8 L965.0 434.5 L966.0 447.5 L967.0 460.7 L968.0 474.2 L969.0 487.9 L970.0 501.8 L971.0 515.8 L972.0 529.9 L973.0 544.0 L974.0 558.2 L975.0 572.3 L976.0 586.4 L977.0 600.4 L978.0 614.2 L979.0 627.9 L980.0 641.4 L981.0 654.7 L982.0 667.7 L983.0 680.3 L984.0 692.6 L985.0 704.6 L986.0 716.1 L987.0 727.2 L988.0 737.9 L989.0 748.0 L990.0 757.6 L991.0 766.7 L992.0 775.2 L993.0 783.1 L994.0 790.4 L995.0 797.1 L996.0 803.1 L997.0 808.4 L998.0 813.1 L999.0 817.0 L1000.0 820.3 L1001.0 822.8 L1002.0 824.6 L1003.0 825.7 L1004.0 826.1 L1005.0 825.7 L1006.0 824.7 L1007.0 822.9 L1008.0 820.5 L1009.0 817.4 L1010.0 813.6 L1011.0 809.1 L1012.0 804.0 L1013.0 798.2 L1014.0 791.8 L1015.0 784.8 L1016.0 777.3 L1017.0 769.1 L1018.0 760.4 L1019.0 751.1 L1020.0 741.4 L1021.0 731.1 L1022.0 720.4 L1023.0 709.3 L1024.0 697.8 L1025.0 686.0 L1026.0 673.7 L1027.0 661.2 L1028.0 648.4 L1029.0 635.4 L1030.0 622.2 L1031.0 608.8 L1032.0 595.2 L1033.0 581.6 L1034.0 567.9 L1035.0 554.1 L1036.0 540.4 L1037.0 526.7 L1038.0 513.1 L1039.0 499.6 L1040.0 486.2 L1041.0 473.1 L1042.0 460.1 L1043.0 447.4 L1044.0 435.0 L1045.0 422.8 L1046.0 411.1 L1047.0 399.7 L1048.0 388.7 L1049.0 378.1 L1050.0 368.1 L1051.0 358.5 L1052.0 349.4 L1053.0 340.8 L1054.0 332.8 L1055.0 325.4 L1056.0 318.6 L1057.0 312.4 L1058.0 306.8 L1059.0 301.9 L1060.0 297.6 L1061.0 294.0 L1062.0 291.1 L1063.0 288.9 L1064.0 287.3 L1065.0 286.5 L1066.0 286.3 L1067.0 286.9 L1068.0 288.2 L1069.0 290.1 L1070.0 292.7 L1071.0 296.0 L1072.0 300.0 L1073.0 304.6 L1074.0 309.9 L1075.0 315.8 L1076.0 322.3 L1077.0 329.4 L1078.0 337.1 L1079.0 345.4 L1080.0 354.2 L1081.0 363.4 L1082.0 373.2 L1083.0 383.5 L1084.0 394.1 L1085.0 405.2 L1086.0 416.6 L1087.0 428.4 L1088.0 440.4 L1089.0 452.8 L1090.0 465.4 L1091.0 478.2 L1092.0 491.1 L1093.0 504.2 L1094.0 517.4 L1095.0 530.7 L1096.0 543.9 L1097.0 557.2 L1098.0 570.4 L1099.0 583.6 L1100.0 596.6 L1101.0 609.4 L1102.0 622.1 L1103.0 634.6 L1104.0 646.7 L1105.0 658.6 L1106.0 670.2 L1107.0 681.4 L1108.0 692.2 L1109.0 702.6 L1110.0 712.6 L1111.0 722.1 L1112.0 731.1 L1113.0 739.5 L1114.0 747.5 L1115.0 754.8 L1116.0 761.6 L1117.0 767.7 L1118.0 773.2 L1119.0 778.1 L1120.0 782.4 L1121.0 785.9 L1122.0 788.8 L1123.0 791.1 L1124.0 792.6 L1125.0 793.4 L1126.0 793.6 L1127.0 793.1 L1128.0 792.1 L1129.0 790.4 L1130.0 788.3 L1131.0 785.5 L1132.0 782.2 L1133.0 778.3 L1134.0 773.9 L1135.0 769.0 L1136.0 763.5 L1137.0 757.6 L1138.0 751.1 L1139.0 744.2 L1140.0 736.8 L1141.0 729.0 L1142.0 720.8 L1143.0 712.1 L1144.0 703.1 L1145.0 693.7 L1146.0 684.0 L1147.0 673.9 L1148.0 663.6 L1149.0 653.0 L1150.0 642.2 L1151.0 631.1 L1152.0 619.9 L1153.0 608.5 L1154.0 597.0 L1155.0 585.4 L1156.0 573.7 L1157.0 561.9 L1158.0 550.1 L1159.0 538.4 L1160.0 526.7 L1161.0 515.0 L1162.0 503.5 L1163.0 492.0 L1164.0 480.7 L1165.0 469.6 L1166.0 458.7 L1167.0 448.1 L1168.0 437.7 L1169.0 427.5 L1170.0 417.7 L1171.0 408.2 L1172.0 399.1 L1173.0 390.3 L1174.0 381.9 L1175.0 374.0 L1176.0 366.5 L1177.0 359.4 L1178.0 352.8 L1179.0 346.7 L1180.0 341.1 L1181.0 336.0 L1182.0 331.4 L1183.0 327.4 L1184.0 323.9 L1185.0 321.0 L1186.0 318.7 L1187.0 316.9 L1188.0 315.7 L1189.0 315.0 L1190.0 315.0 L1191.0 315.6 L1192.0 316.8 L1193.0 318.6 L1194.0 321.1 L1195.0 324.2 L1196.0 327.9 L1197.0 332.3 L1198.0 337.2 L1199.0 342.6 L1200.0 348.7 L1201.0 355.3 L1202.0 362.4 L1203.0 370.0 L1204.0 378.1 L1205.0 386.6 L1206.0 395.6 L1207.0 405.0 L1208.0 414.7 L1209.0 424.8 L1210.0 435.3 L1211.0 446.0 L1212.0 456.9 L1213.0 468.1 L1214.0 479.5 L1215.0 491.0 L1216.0 502.7 L1217.0 514.4 L1218.0 526.2 L1219.0 538.0 L1220.0 549.8 L1221.0 561.6 L1222.0 573.2 L1223.0 584.8 L1224.0 596.2 L1225.0 607.4 L1226.0 618.4 L1227.0 629.1 L1228.0 639.5 L1229.0 649.7 L1230.0 659.5 L1231.0 668.9 L1232.0 677.9 L1233.0 686.5 L1234.0 694.6 L1235.0 702.3 L1236.0 709.5 L1237.0 716.1 L1238.0 722.2 L1239.0 727.7 L1240.0 732.7 L1241.0 737.1 L1242.0 740.9 L1243.0 744.0 L1244.0 746.6 L1245.0 748.5 L1246.0 749.8 L1247.0 750.4 L1248.0 750.4 L1249.0 750.0 L1250.0 749.1 L1251.0 747.8 L1252.0 746.0 L1253.0 743.8 L1254.0 741.1 L1255.0 738.1 L1256.0 734.6 L1257.0 730.7 L1258.0 726.4 L1259.0 721.7 L1260.0 716.7 L1261.0 711.2 L1262.0 705.4 L1263.0 699.3 L1264.0 692.9 L1265.0 686.1 L1266.0 679.0 L1267.0 671.7 L1268.0 664.1 L1269.0 656.2 L1270.0 648.1 L1271.0 639.8 L1272.0 631.3 L1273.0 622.6 L1274.0 613.8 L1275.0 604.9 L1276.0 595.8 L1277.0 586.7 L1278.0 577.4 L1279.0 568.2 L1280.0 558.9 L1281.0 549.6 L1282.0 540.3 L1283.0 531.0 L1284.0 521.9 L1285.0 512.8 L1286.0 503.7 L1287.0 494.9 L1288.0 486.1 L1289.0 477.5 L1290.0 469.1 L1291.0 460.9 L1292.0 453.0 L1293.0 445.2 L1294.0 437.7 L1295.0 430.5 L1296.0 423.6 L1297.0 417.0 L1298.0 410.7 L1299.0 404.7 L1300.0 399.1 L1301.0 393.9 L1302.0 389.0 L1303.0 384.5 L1304.0 380.4 L1305.0 376.7 L1306.0 373.4 L1307.0 370.6 L1308.0 368.2 L1309.0 366.2 L1310.0 364.6 L1311.0 363.5 L1312.0 362.8 L1313.0 362.6 L1314.0 362.9 L1315.0 363.7 L1316.0 365.0 L1317.0 366.9 L1318.0 369.2 L1319.0 372.1 L1320.0 375.5 L1321.0 379.4 L1322.0 383.8 L1323.0 388.6 L1324.0 393.9 L1325.0 399.6 L1326.0 405.7 L1327.0 412.2 L1328.0 419.1 L1329.0 426.3 L1330.0 433.9 L1331.0 441.8 L1332.0 449.9 L1333.0 458.3 L1334.0 467.0 L1335.0 475.8 L1336.0 484.8 L1337.0 493.9 L1338.0 503.2 L1339.0 512.5 L1340.0 521.9 L1341.0 531.3 L1342.0 540.7 L1343.0 550.0 L1344.0 559.3 L1345.0 568.5 L1346.0 577.6 L1347.0 586.5 L1348.0 595.2 L1349.0 603.7 L1350.0 611.9 L1351.0 619.9 L1352.0 627.6 L1353.0 635.0 L1354.0 642.0 L1355.0 648.7 L1356.0 655.0 L1357.0 660.9 L1358.0 666.3 L1359.0 671.3 L1360.0 675.9 L1361.0 679.9 L1362.0 683.5 L1363.0 686.6 L1364.0 689.2 L1365.0 691.2 L1366.0 692.8 L1367.0 693.8 L1368.0 694.3 L1369.0 694.3 L1370.0 693.9 L1371.0 693.3 L1372.0 692.4 L1373.0 691.2 L1374.0 689.7 L1375.0 687.9 L1376.0 685.9 L1377.0 683.6 L1378.0 681.0 L1379.0 678.1 L1380.0 675.0 L1381.0 671.6 L1382.0 667.9 L1383.0 664.1 L1384.0 660.0 L1385.0 655.7 L1386.0 651.2 L1387.0 646.4 L1388.0 641.5 L1389.0 636.4 L1390.0 631.2 L1391.0 625.8 L1392.0 620.2 L1393.0 614.5 L1394.0 608.7 L1395.0 602.8 L1396.0 596.7 L1397.0 590.6 L1398.0 584.5 L1399.0 578.3 L1400.0 572.0 L1401.0 565.7 L1402.0 559.4 L1403.0 553.1 L1404.0 546.8 L1405.0 540.6 L1406.0 534.4 L1407.0 528.2 L1408.0 522.1 L1409.0 516.1 L1410.0 510.2 L1411.0 504.4 L1412.0 498.7 L1413.0 493.2 L1414.0 487.8 L1415.0 482.5 L1416.0 477.4 L1417.0 472.6 L1418.0 467.8 L1419.0 463.3 L1420.0 459.1 L1421.0 455.0 L1422.0 451.1 L1423.0 447.5 L1424.0 444.2 L1425.0 441.1 L1426.0 438.2 L1427.0 435.7 L1428.0 433.4 L1429.0 431.3 L1430.0 429.6 L1431.0 428.1 L1432.0 426.9 L1433.0 426.1 L1434.0 425.5 L1435.0 425.2 L1436.0 425.2 L1437.0 425.5 L1438.0 426.3 L1439.0 427.3 L1440.0 428.7 L1441.0 430.5 L1442.0 432.6 L1443.0 435.1 L1444.0 437.8 L1445.0 440.9 L1446.0 444.3 L1447.0 447.9 L1448.0 451.9 L1449.0 456.1 L1450.0 460.6 L1451.0 465.3 L1452.0 470.2 L1453.0 475.3 L1454.0 480.6 L1455.0 486.1 L1456.0 491.7 L1457.0 497.5 L1458.0 503.3 L1459.0 509.3 L1460.0 515.3 L1461.0 521.4 L1462.0 527.5 L1463.0 533.6 L1464.0 539.7 L1465.0 545.7 L1466.0 551.7 L1467.0 557.6 L1468.0 563.4 L1469.0 569.1 L1470.0 574.6 L1471.0 580.0 L1472.0 585.3 L1473.0 590.3 L1474.0 595.1 L1475.0 599.7 L1476.0 604.0 L1477.0 608.1 L1478.0 611.9 L1479.0 615.5 L1480.0 618.7 L1481.0 621.6 L1482.0 624.2 L1483.0 626.5 L1484.0 628.4 L1485.0 630.0 L1486.0 631.2 L1487.0 632.1 L1488.0 632.7 L1489.0 632.9 L1490.0 632.8 L1491.0 632.6 L1492.0 632.2 L1493.0 631.8 L1494.0 631.2 L1495.0 630.4 L1496.0 629.5 L1497.0 628.5 L1498.0 627.4 L1499.0 626.1 L1500.0 624.7 L1501.0 623.2 L1502.0 621.6 L1503.0 619.9 L1504.0 618.0 L1505.0 616.1 L1506.0 614.0 L1507.0 611.9 L1508.0 609.6 L1509.0 607.3 L1510.0 604.9 L1511.0 602.4 L1512.0 599.8 L1513.0 597.2 L1514.0 594.5 L1515.0 591.7 L1516.0 588.9 L1517.0 586.0 L1518.0 583.1 L1519.0 580.2 L1520.0 577.2 L1521.0 574.2 L1522.0 571.2 L1523.0 568.2 L1524.0 565.2 L1525.0 562.1 L1526.0 559.1 L1527.0 556.1 L1528.0 553.1 L1529.0 550.2 L1530.0 547.3 L1531.0 544.4 L1532.0 541.5 L1533.0 538.7 L1534.0 536.0 L1535.0 533.3 L1536.0 530.7 L1537.0 528.2 L1538.0 525.7 L1539.0 523.3 L1540.0 521.0 L1541.0 518.8 L1542.0 516.7 L1543.0 514.7 L1544.0 512.8 L1545.0 511.1 L1546.0 509.4 L1547.0 507.8 L1548.0 506.4 L1549.0 505.1 L1550.0 503.9 L1551.0 502.8 L1552.0 501.8 L1553.0 501.0 L1554.0 500.4 L1555.0 499.8 L1556.0 499.4 L1557.0 499.1 L1558.0 499.0 L1559.0 499.0 L1560.0 499.2 L1561.0 499.6 L1562.0 500.2 L1563.0 501.0 L1564.0 502.0 L1565.0 503.2 L1566.0 504.6 L1567.0 506.1 L1568.0 507.8 L1569.0 509.7 L1570.0 511.7 L1571.0 513.8 L1572.0 516.1 L1573.0 518.5 L1574.0 520.9 L1575.0 523.5 L1576.0 526.1 L1577.0 528.7 L1578.0 531.4 L1579.0 534.2 L1580.0 536.9 L1581.0 539.6 L1582.0 542.3 L1583.0 545.0 L1584.0 547.6 L1585.0 550.2 L1586.0 552.6 L1587.0 555.0 L1588.0 557.2 L1589.0 559.4 L1590.0 561.4 L1591.0 563.2 L1592.0 565.0 L1593.0 566.5 L1594.0 567.9 L1595.0 569.0 L1596.0 570.0 L1597.0 570.9 L1598.0 571.5 L1599.0 571.9 L1600.0 572.1 L1601.0 572.1 L1602.0 572.0 L1603.0 571.9 L1604.0 571.7 L1605.0 571.5 L1606.0 571.2 L1607.0 570.9 L1608.0 570.5 L1609.0 570.1 L1610.0 569.6 L1611.0 569.0 L1612.0 568.5 L1613.0 567.9 L1614.0 567.3 L1615.0 566.6 L1616.0 566.0 L1617.0 565.3 L1618.0 564.6 L1619.0 563.9 L1620.0 563.2 L1621.0 562.5 L1622.0 561.8 L1623.0 561.2 L1624.0 560.5 L1625.0 559.9 L1626.0 559.3 L1627.0 558.8 L1628.0 558.3 L1629.0 557.8 L1630.0 557.4 L1631.0 557.0 L1632.0 556.7 L1633.0 556.4 L1634.0 556.2 L1635.0 556.0 L1636.0 555.9 L1637.0 555.9 L1638.0 555.9 L1639.0 555.9 L1640.0 556.0 L1641.0 556.2 L1642.0 556.5 L1643.0 556.7 L1644.0 557.1 L1645.0 557.4 L1646.0 557.9 L1647.0 558.4 L1648.0 558.9 L1649.0 559.4 L1650.0 560.0 L1651.0 560.7 L1652.0 561.3 L1653.0 562.0 L1654.0 562.8 L1655.0 563.5 L1656.0 564.3 L1657.0 565.1 L1658.0 565.9 L1659.0 566.7 L1660.0 567.5 L1661.0 568.3 L1662.0 569.1 L1663.0 570.0 L1664.0 570.8 L1665.0 571.6 L1666.0 572.3 L1667.0 573.1 L1668.0 573.8 L1669.0 574.5 L1670.0 575.2 L1671.0 575.9 L1672.0 576.5 L1673.0 577.0 L1674.0 577.6 L1675.0 578.1 L1676.0 578.5 L1677.0 578.9 L1678.0 579.2 L1679.0 579.5 L1680.0 579.8 L1681.0 580.0 L1682.0 580.1 L1683.0 580.2 L1684.0 580.2 L1685.0 580.2 L1686.0 580.1 L1687.0 580.0 L1688.0 579.8 L1689.0 579.6 L1690.0 579.3 L1691.0 578.9 L1692.0 578.5 L1693.0 578.1 L1694.0 577.6 L1695.0 577.1 L1696.0 576.5 L1697.0 575.9 L1698.0 575.2 L1699.0 574.5 L1700.0 573.8 L1701.0 573.0 L1702.0 572.2 L1703.0 571.3" stroke="#0a0ac0" stroke-width="6"/>
<path d="M219.0 442.8 L220.0 444.9 L221.0 447.1 L222.0 449.4 L223.0 451.7 L224.0 454.1 L225.0 456.6 L226.0 459.1 L227.0 461.7 L228.0 464.3 L229.0 467.0 L230.0 469.6 L231.0 472.3 L232.0 475.0 L233.0 477.8 L234.0 480.5 L235.0 483.3 L236.0 486.0 L237.0 488.7 L238.0 491.4 L239.0 494.1 L240.0 496.7 L241.0 499.3 L242.0 502.0 L243.0 504.7 L244.0 507.5 L245.0 510.3 L246.0 513.2 L247.0 516.1 L248.0 519.0 L249.0 521.9 L250.0 524.9 L251.0 527.7 L252.0 530.6 L253.0 533.4 L254.0 536.1 L255.0 538.8 L256.0 541.4 L257.0 543.8 L258.0 546.2 L259.0 548.4 L260.0 550.4 L261.0 552.3 L262.0 554.1 L263.0 555.8 L264.0 557.5 L265.0 559.3 L266.0 560.9 L267.0 562.4 L268.0 563.6 L269.0 564.5 L270.0 565.0 L271.0 565.0 L272.0 564.7 L273.0 564.2 L274.0 563.4 L275.0 562.3 L276.0 561.0 L277.0 559.4 L278.0 557.6 L279.0 555.5 L280.0 553.2 L281.0 550.6 L282.0 547.9 L283.0 544.9 L284.0 541.6 L285.0 538.2 L286.0 534.6 L287.0 530.8 L288.0 526.9 L289.0 522.7 L290.0 518.4 L291.0 514.0 L292.0 509.5 L293.0 504.8 L294.0 500.1 L295.0 495.2 L296.0 490.3 L297.0 485.4 L298.0 480.3 L299.0 475.3 L300.0 470.2 L301.0 465.1 L302.0 460.1 L303.0 455.0 L304.0 450.0 L305.0 445.1 L306.0 440.2 L307.0 435.4 L308.0 430.7 L309.0 426.1 L310.0 421.6 L311.0 417.3 L312.0 413.1 L313.0 409.0 L314.0 405.2 L315.0 401.5 L316.0 397.9 L317.0 394.6 L318.0 391.5 L319.0 388.6 L320.0 385.9 L321.0 383.5 L322.0 381.3 L323.0 379.4 L324.0 377.6 L325.0 376.2 L326.0 375.0 L327.0 374.1 L328.0 373.4 L329.0 373.0 L330.0 372.9 L331.0 373.0 L332.0 373.5 L333.0 374.4 L334.0 375.6 L335.0 377.1 L336.0 378.9 L337.0 381.1 L338.0 383.6 L339.0 386.4 L340.0 389.5 L341.0 392.9 L342.0 396.6 L343.0 400.6 L344.0 404.8 L345.0 409.3 L346.0 414.1 L347.0 419.1 L348.0 424.3 L349.0 429.7 L350.0 435.4 L351.0 441.2 L352.0 447.2 L353.0 453.4 L354.0 459.6 L355.0 466.1 L356.0 472.6 L357.0 479.2 L358.0 485.9 L359.0 492.7 L360.0 499.5 L361.0 506.4 L362.0 513.2 L363.0 520.1 L364.0 526.9 L365.0 533.7 L366.0 540.5 L367.0 547.1 L368.0 553.7 L369.0 560.2 L370.0 566.5 L371.0 572.8 L372.0 578.9 L373.0 584.8 L374.0 590.5 L375.0 596.0 L376.0 601.4 L377.0 606.5 L378.0 611.4 L379.0 616.0 L380.0 620.4 L381.0 624.5 L382.0 628.3 L383.0 631.9 L384.0 635.1 L385.0 638.1 L386.0 640.7 L387.0 643.1 L388.0 645.1 L389.0 646.7 L390.0 648.1 L391.0 649.1 L392.0 649.8 L393.0 650.1 L394.0 650.1 L395.0 649.6 L396.0 648.6 L397.0 647.1 L398.0 645.1 L399.0 642.7 L400.0 639.7 L401.0 636.3 L402.0 632.4 L403.0 628.1 L404.0 623.4 L405.0 618.2 L406.0 612.6 L407.0 606.6 L408.0 600.3 L409.0 593.6 L410.0 586.5 L411.0 579.2 L412.0 571.5 L413.0 563.6 L414.0 555.4 L415.0 547.1 L416.0 538.5 L417.0 529.7 L418.0 520.7 L419.0 511.7 L420.0 502.5 L421.0 493.3 L422.0 484.0 L423.0 474.7 L424.0 465.5 L425.0 456.2 L426.0 447.0 L427.0 437.9 L428.0 428.9 L429.0 420.1 L430.0 411.4 L431.0 402.9 L432.0 394.6 L433.0 386.5 L434.0 378.7 L435.0 371.2 L436.0 364.0 L437.0 357.2 L438.0 350.6 L439.0 344.5 L440.0 338.7 L441.0 333.3 L442.0 328.3 L443.0 323.8 L444.0 319.7 L445.0 316.1 L446.0 312.9 L447.0 310.2 L448.0 308.0 L449.0 306.2 L450.0 305.0 L451.0 304.2 L452.0 304.0 L453.0 304.2 L454.0 305.0 L455.0 306.2 L456.0 308.0 L457.0 310.2 L458.0 313.0 L459.0 316.2 L460.0 319.9 L461.0 324.0 L462.0 328.6 L463.0 333.7 L464.0 339.2 L465.0 345.1 L466.0 351.4 L467.0 358.1 L468.0 365.1 L469.0 372.5 L470.0 380.3 L471.0 388.4 L472.0 396.8 L473.0 405.4 L474.0 414.3 L475.0 423.5 L476.0 432.9 L477.0 442.4 L478.0 452.1 L479.0 462.0 L480.0 472.0 L481.0 482.1 L482.0 492.3 L483.0 502.5 L484.0 512.8 L485.0 523.0 L486.0 533.2 L487.0 543.4 L488.0 553.5 L489.0 563.5 L490.0 573.4 L491.0 583.1 L492.0 592.6 L493.0 602.0 L494.0 611.2 L495.0 620.1 L496.0 628.7 L497.0 637.1 L498.0 645.2 L499.0 653.0 L500.0 660.4 L501.0 667.4 L502.0 674.1 L503.0 680.4 L504.0 686.3 L505.0 691.8 L506.0 696.9 L507.0 701.5 L508.0 705.6 L509.0 709.3 L510.0 712.5 L511.0 715.3 L512.0 717.5 L513.0 719.3 L514.0 720.5 L515.0 721.3 L516.0 721.5 L517.0 721.2 L518.0 720.1 L519.0 718.4 L520.0 716.0 L521.0 713.0 L522.0 709.3 L523.0 704.9 L524.0 699.9 L525.0 694.2 L526.0 688.0 L527.0 681.1 L528.0 673.7 L529.0 665.8 L530.0 657.3 L531.0 648.3 L532.0 638.8 L533.0 628.9 L534.0 618.6 L535.0 607.9 L536.0 596.8 L537.0 585.4 L538.0 573.7 L539.0 561.7 L540.0 549.6 L541.0 537.2 L542.0 524.7 L543.0 512.0 L544.0 499.3 L545.0 486.5 L546.0 473.7 L547.0 461.0 L548.0 448.3 L549.0 435.7 L550.0 423.3 L551.0 411.0 L552.0 399.0 L553.0 387.2 L554.0 375.7 L555.0 364.4 L556.0 353.6 L557.0 343.1 L558.0 333.0 L559.0 323.4 L560.0 314.2 L561.0 305.5 L562.0 297.3 L563.0 289.7 L564.0 282.6 L565.0 276.1 L566.0 270.2 L567.0 265.0 L568.0 260.3 L569.0 256.4 L570.0 253.0 L571.0 250.4 L572.0 248.4 L573.0 247.1 L574.0 246.5 L575.0 246.5 L576.0 247.2 L577.0 248.6 L578.0 250.6 L579.0 253.2 L580.0 256.5 L581.0 260.4 L582.0 264.9 L583.0 270.1 L584.0 275.8 L585.0 282.0 L586.0 288.9 L587.0 296.3 L588.0 304.2 L589.0 312.6 L590.0 321.5 L591.0 330.9 L592.0 340.7 L593.0 351.0 L594.0 361.6 L595.0 372.6 L596.0 383.9 L597.0 395.5 L598.0 407.4 L599.0 419.6 L600.0 432.0 L601.0 444.6 L602.0 457.3 L603.0 470.2 L604.0 483.1 L605.0 496.2 L606.0 509.2 L607.0 522.3 L608.0 535.3 L609.0 548.3 L610.0 561.1 L611.0 573.9 L612.0 586.4 L613.0 598.8 L614.0 611.0 L615.0 622.9 L616.0 634.5 L617.0 645.9 L618.0 656.9 L619.0 667.5 L620.0 677.7 L621.0 687.5 L622.0 696.9 L623.0 705.8 L624.0 714.2 L625.0 722.1 L626.0 729.5 L627.0 736.4 L628.0 742.7 L629.0 748.4 L630.0 753.5 L631.0 758.0 L632.0 761.9 L633.0 765.2 L634.0 767.8 L635.0 769.8 L636.0 771.2 L637.0 771.9 L638.0 772.0 L639.0 771.2 L640.0 769.7 L641.0 767.4 L642.0 764.3 L643.0 760.4 L644.0 755.7 L645.0 750.3 L646.0 744.1 L647.0 737.2 L648.0 729.6 L649.0 721.3 L650.0 712.3 L651.0 702.7 L652.0 692.5 L653.0 681.7 L654.0 670.4 L655.0 658.5 L656.0 646.2 L657.0 633.4 L658.0 620.2 L659.0 606.6 L660.0 592.7 L661.0 578.5 L662.0 564.0 L663.0 549.3 L664.0 534.5 L665.0 519.5 L666.0 504.4 L667.0 489.2 L668.0 474.1 L669.0 459.0 L670.0 443.9 L671.0 429.0 L672.0 414.3 L673.0 399.7 L674.0 385.4 L675.0 371.4 L676.0 357.7 L677.0 344.4 L678.0 331.5 L679.0 319.0 L680.0 307.0 L681.0 295.5 L682.0 284.6 L683.0 274.2 L684.0 264.4 L685.0 255.3 L686.0 246.8 L687.0 239.0 L688.0 231.8 L689.0 225.4 L690.0 219.8 L691.0 214.9 L692.0 210.7 L693.0 207.4 L694.0 204.8 L695.0 203.1 L696.0 202.1 L697.0 201.9 L698.0 202.5 L699.0 203.8 L700.0 205.8 L701.0 208.5 L702.0 212.0 L703.0 216.1 L704.0 220.9 L705.0 226.4 L706.0 232.5 L707.0 239.3 L708.0 246.7 L709.0 254.7 L710.0 263.4 L711.0 272.5 L712.0 282.3 L713.0 292.6 L714.0 303.3 L715.0 314.6 L716.0 326.3 L717.0 338.4 L718.0 350.9 L719.0 363.7 L720.0 376.9 L721.0 390.4 L722.0 404.1 L723.0 418.1 L724.0 432.3 L725.0 446.6 L726.0 461.0 L727.0 475.6 L728.0 490.2 L729.0 504.8 L730.0 519.4 L731.0 534.0 L732.0 548.5 L733.0 562.8 L734.0 577.0 L735.0 591.1 L736.0 604.8 L737.0 618.4 L738.0 631.6 L739.0 644.6 L740.0 657.1 L741.0 669.3 L742.0 681.1 L743.0 692.4 L744.0 703.3 L745.0 713.6 L746.0 723.5 L747.0 732.8 L748.0 741.5 L749.0 749.7 L750.0 757.2 L751.0 764.1 L752.0 770.4 L753.0 776.0 L754.0 781.0 L755.0 785.2 L756.0 788.8 L757.0 791.7 L758.0 793.8 L759.0 795.2 L760.0 796.0 L761.0 795.9 L762.0 795.1 L763.0 793.3 L764.0 790.6 L765.0 787.1 L766.0 782.7 L767.0 777.4 L768.0 771.3 L769.0 764.4 L770.0 756.7 L771.0 748.2 L772.0 739.0 L773.0 729.0 L774.0 718.4 L775.0 707.0 L776.0 695.1 L777.0 682.5 L778.0 669.4 L779.0 655.7 L780.0 641.5 L781.0 626.9 L782.0 611.9 L783.0 596.5 L784.0 580.8 L785.0 564.9 L786.0 548.7 L787.0 532.3 L788.0 515.7 L789.0 499.1 L790.0 482.5 L791.0 465.8 L792.0 449.2 L793.0 432.7 L794.0 416.4 L795.0 400.2 L796.0 384.3 L797.0 368.6 L798.0 353.3 L799.0 338.4 L800.0 323.9 L801.0 309.8 L802.0 296.2 L803.0 283.2 L804.0 270.8 L805.0 258.9 L806.0 247.7 L807.0 237.2 L808.0 227.4 L809.0 218.3 L810.0 209.9 L811.0 202.4 L812.0 195.6 L813.0 189.7 L814.0 184.6 L815.0 180.4 L816.0 177.1 L817.0 174.6 L818.0 173.0 L819.0 172.3 L820.0 172.4 L821.0 173.4 L822.0 175.1 L823.0 177.6 L824.0 180.9 L825.0 184.9 L826.0 189.7 L827.0 195.2 L828.0 201.5 L829.0 208.5 L830.0 216.2 L831.0 224.5 L832.0 233.5 L833.0 243.2 L834.0 253.4 L835.0 264.3 L836.0 275.7 L837.0 287.6 L838.0 300.0 L839.0 312.9 L840.0 326.2 L841.0 339.9 L842.0 354.0 L843.0 368.5 L844.0 383.2 L845.0 398.2 L846.0 413.4 L847.0 428.8 L848.0 444.4 L849.0 460.0 L850.0 475.8 L851.0 491.5 L852.0 507.3 L853.0 523.0 L854.0 538.6 L855.0 554.1 L856.0 569.4 L857.0 584.6 L858.0 599.5 L859.0 614.1 L860.0 628.4 L861.0 642.3 L862.0 655.9 L863.0 669.1 L864.0 681.8 L865.0 694.0 L866.0 705.7 L867.0 716.9 L868.0 727.5 L869.0 737.5 L870.0 746.9 L871.0 755.7 L872.0 763.7 L873.0 771.1 L874.0 777.8 L875.0 783.8 L876.0 789.1 L877.0 793.6 L878.0 797.3 L879.0 800.3 L880.0 802.5 L881.0 803.9 L882.0 804.5 L883.0 804.3 L884.0 803.3 L885.0 801.4 L886.0 798.6 L887.0 795.1 L888.0 790.6 L889.0 785.4 L890.0 779.3 L891.0 772.4 L892.0 764.8 L893.0 756.4 L894.0 747.3 L895.0 737.4 L896.0 726.9 L897.0 715.8 L898.0 704.0 L899.0 691.6 L900.0 678.6 L901.0 665.1 L902.0 651.2 L903.0 636.8 L904.0 621.9 L905.0 606.7 L906.0 591.2 L907.0 575.4 L908.0 559.3 L909.0 543.0 L910.0 526.6 L911.0 510.0 L912.0 493.4 L913.0 476.7 L914.0 460.1 L915.0 443.5 L916.0 427.0 L917.0 410.7 L918.0 394.5 L919.0 378.6 L920.0 363.0 L921.0 347.7 L922.0 332.7 L923.0 318.2 L924.0 304.1 L925.0 290.5 L926.0 277.4 L927.0 264.8 L928.0 252.8 L929.0 241.5 L930.0 230.7 L931.0 220.7 L932.0 211.3 L933.0 202.7 L934.0 194.9 L935.0 187.8 L936.0 181.5 L937.0 176.0 L938.0 171.3 L939.0 167.4 L940.0 164.4 L941.0 162.3 L942.0 161.0 L943.0 160.6 L944.0 161.0 L945.0 162.2 L946.0 164.3 L947.0 167.2 L948.0 170.9 L949.0 175.4 L950.0 180.7 L951.0 186.8 L952.0 193.7 L953.0 201.3 L954.0 209.6 L955.0 218.6 L956.0 228.3 L957.0 238.7 L958.0 249.6 L959.0 261.2 L960.0 273.4 L961.0 286.0 L962.0 299.2 L963.0 312.8 L964.0 326.9 L965.0 341.4 L966.0 356.2 L967.0 371.3 L968.0 386.7 L969.0 402.3 L970.0 418.2 L971.0 434.1 L972.0 450.2 L973.0 466.3 L974.0 482.5 L975.0 498.6 L976.0 514.7 L977.0 530.7 L978.0 546.5 L979.0 562.1 L980.0 577.5 L981.0 592.7 L982.0 607.5 L983.0 621.9 L984.0 636.0 L985.0 649.6 L986.0 662.8 L987.0 675.5 L988.0 687.6 L989.0 699.2 L990.0 710.2 L991.0 720.5 L992.0 730.2 L993.0 739.3 L994.0 747.6 L995.0 755.2 L996.0 762.0 L997.0 768.1 L998.0 773.4 L999.0 777.9 L1000.0 781.6 L1001.0 784.5 L1002.0 786.6 L1003.0 787.9 L1004.0 788.3 L1005.0 787.9 L1006.0 786.7 L1007.0 784.8 L1008.0 782.1 L1009.0 778.7 L1010.0 774.5 L1011.0 769.6 L1012.0 764.0 L1013.0 757.6 L1014.0 750.6 L1015.0 742.9 L1016.0 734.5 L1017.0 725.5 L1018.0 715.9 L1019.0 705.7 L1020.0 694.9 L1021.0 683.6 L1022.0 671.8 L1023.0 659.5 L1024.0 646.8 L1025.0 633.6 L1026.0 620.1 L1027.0 606.2 L1028.0 592.0 L1029.0 577.6 L1030.0 562.9 L1031.0 548.0 L1032.0 532.9 L1033.0 517.7 L1034.0 502.4 L1035.0 487.0 L1036.0 471.7 L1037.0 456.3 L1038.0 441.1 L1039.0 425.9 L1040.0 410.9 L1041.0 396.0 L1042.0 381.4 L1043.0 367.0 L1044.0 352.9 L1045.0 339.1 L1046.0 325.7 L1047.0 312.7 L1048.0 300.1 L1049.0 287.9 L1050.0 276.3 L1051.0 265.1 L1052.0 254.5 L1053.0 244.5 L1054.0 235.1 L1055.0 226.2 L1056.0 218.1 L1057.0 210.6 L1058.0 203.7 L1059.0 197.6 L1060.0 192.2 L1061.0 187.5 L1062.0 183.5 L1063.0 180.3 L1064.0 177.8 L1065.0 176.2 L1066.0 175.2 L1067.0 175.1 L1068.0 175.7 L1069.0 177.2 L1070.0 179.5 L1071.0 182.6 L1072.0 186.5 L1073.0 191.1 L1074.0 196.6 L1075.0 202.8 L1076.0 209.7 L1077.0 217.3 L1078.0 225.7 L1079.0 234.7 L1080.0 244.4 L1081.0 254.7 L1082.0 265.6 L1083.0 277.0 L1084.0 289.0 L1085.0 301.5 L1086.0 314.4 L1087.0 327.8 L1088.0 341.5 L1089.0 355.6 L1090.0 370.0 L1091.0 384.6 L1092.0 399.5 L1093.0 414.6 L1094.0 429.8 L1095.0 445.1 L1096.0 460.4 L1097.0 475.8 L1098.0 491.1 L1099.0 506.3 L1100.0 521.4 L1101.0 536.4 L1102.0 551.1 L1103.0 565.6 L1104.0 579.9 L1105.0 593.7 L1106.0 607.2 L1107.0 620.3 L1108.0 633.0 L1109.0 645.2 L1110.0 656.8 L1111.0 668.0 L1112.0 678.5 L1113.0 688.4 L1114.0 697.7 L1115.0 706.3 L1116.0 714.3 L1117.0 721.5 L1118.0 728.0 L1119.0 733.7 L1120.0 738.7 L1121.0 742.9 L1122.0 746.3 L1123.0 748.9 L1124.0 750.7 L1125.0 751.7 L1126.0 751.9 L1127.0 751.4 L1128.0 750.2 L1129.0 748.4 L1130.0 746.0 L1131.0 743.0 L1132.0 739.3 L1133.0 735.0 L1134.0 730.1 L1135.0 724.7 L1136.0 718.6 L1137.0 712.0 L1138.0 704.9 L1139.0 697.2 L1140.0 689.0 L1141.0 680.3 L1142.0 671.2 L1143.0 661.6 L1144.0 651.5 L1145.0 641.1 L1146.0 630.3 L1147.0 619.1 L1148.0 607.6 L1149.0 595.8 L1150.0 583.7 L1151.0 571.4 L1152.0 558.8 L1153.0 546.1 L1154.0 533.2 L1155.0 520.2 L1156.0 507.0 L1157.0 493.9 L1158.0 480.6 L1159.0 467.4 L1160.0 454.2 L1161.0 441.1 L1162.0 428.0 L1163.0 415.1 L1164.0 402.3 L1165.0 389.7 L1166.0 377.3 L1167.0 365.2 L1168.0 353.3 L1169.0 341.7 L1170.0 330.4 L1171.0 319.5 L1172.0 308.9 L1173.0 298.7 L1174.0 289.0 L1175.0 279.7 L1176.0 270.9 L1177.0 262.5 L1178.0 254.7 L1179.0 247.4 L1180.0 240.6 L1181.0 234.4 L1182.0 228.8 L1183.0 223.7 L1184.0 219.3 L1185.0 215.4 L1186.0 212.2 L1187.0 209.6 L1188.0 207.6 L1189.0 206.2 L1190.0 205.5 L1191.0 205.5 L1192.0 206.2 L1193.0 207.6 L1194.0 209.8 L1195.0 212.7 L1196.0 216.3 L1197.0 220.7 L1198.0 225.7 L1199.0 231.5 L1200.0 237.9 L1201.0 245.0 L1202.0 252.7 L1203.0 261.0 L1204.0 269.9 L1205.0 279.4 L1206.0 289.4 L1207.0 299.9 L1208.0 310.8 L1209.0 322.2 L1210.0 333.9 L1211.0 346.1 L1212.0 358.5 L1213.0 371.3 L1214.0 384.3 L1215.0 397.5 L1216.0 410.8 L1217.0 424.3 L1218.0 437.9 L1219.0 451.5 L1220.0 465.1 L1221.0 478.7 L1222.0 492.2 L1223.0 505.6 L1224.0 518.8 L1225.0 531.8 L1226.0 544.5 L1227.0 557.0 L1228.0 569.2 L1229.0 581.0 L1230.0 592.4 L1231.0 603.4 L1232.0 613.9 L1233.0 624.0 L1234.0 633.5 L1235.0 642.4 L1236.0 650.8 L1237.0 658.6 L1238.0 665.7 L1239.0 672.2 L1240.0 678.1 L1241.0 683.2 L1242.0 687.6 L1243.0 691.3 L1244.0 694.3 L1245.0 696.6 L1246.0 698.1 L1247.0 698.8 L1248.0 698.9 L1249.0 698.3 L1250.0 697.3 L1251.0 695.8 L1252.0 693.8 L1253.0 691.3 L1254.0 688.3 L1255.0 684.9 L1256.0 680.9 L1257.0 676.5 L1258.0 671.7 L1259.0 666.4 L1260.0 660.6 L1261.0 654.5 L1262.0 647.9 L1263.0 641.0 L1264.0 633.7 L1265.0 626.0 L1266.0 618.0 L1267.0 609.7 L1268.0 601.1 L1269.0 592.2 L1270.0 583.0 L1271.0 573.6 L1272.0 564.0 L1273.0 554.2 L1274.0 544.2 L1275.0 534.1 L1276.0 523.8 L1277.0 513.5 L1278.0 503.0 L1279.0 492.5 L1280.0 482.0 L1281.0 471.5 L1282.0 461.0 L1283.0 450.5 L1284.0 440.1 L1285.0 429.8 L1286.0 419.6 L1287.0 409.5 L1288.0 399.6 L1289.0 389.9 L1290.0 380.4 L1291.0 371.1 L1292.0 362.1 L1293.0 353.3 L1294.0 344.8 L1295.0 336.7 L1296.0 328.8 L1297.0 321.4 L1298.0 314.2 L1299.0 307.5 L1300.0 301.1 L1301.0 295.2 L1302.0 289.7 L1303.0 284.6 L1304.0 280.0 L1305.0 275.8 L1306.0 272.1 L1307.0 268.9 L1308.0 266.1 L1309.0 263.9 L1310.0 262.1 L1311.0 260.8 L1312.0 260.1 L1313.0 259.8 L1314.0 260.1 L1315.0 261.0 L1316.0 262.5 L1317.0 264.7 L1318.0 267.4 L1319.0 270.6 L1320.0 274.5 L1321.0 278.9 L1322.0 283.9 L1323.0 289.3 L1324.0 295.3 L1325.0 301.8 L1326.0 308.8 L1327.0 316.2 L1328.0 324.0 L1329.0 332.3 L1330.0 340.9 L1331.0 349.9 L1332.0 359.1 L1333.0 368.7 L1334.0 378.5 L1335.0 388.5 L1336.0 398.8 L1337.0 409.2 L1338.0 419.7 L1339.0 430.3 L1340.0 441.0 L1341.0 451.7 L1342.0 462.4 L1343.0 473.0 L1344.0 483.6 L1345.0 494.0 L1346.0 504.3 L1347.0 514.4 L1348.0 524.3 L1349.0 534.0 L1350.0 543.4 L1351.0 552.5 L1352.0 561.2 L1353.0 569.6 L1354.0 577.6 L1355.0 585.2 L1356.0 592.3 L1357.0 599.0 L1358.0 605.2 L1359.0 610.9 L1360.0 616.1 L1361.0 620.7 L1362.0 624.8 L1363.0 628.3 L1364.0 631.3 L1365.0 633.6 L1366.0 635.4 L1367.0 636.5 L1368.0 637.0 L1369.0 637.0 L1370.0 636.7 L1371.0 636.0 L1372.0 634.9 L1373.0 633.6 L1374.0 631.9 L1375.0 629.9 L1376.0 627.6 L1377.0 625.0 L1378.0 622.1 L1379.0 618.8 L1380.0 615.3 L1381.0 611.5 L1382.0 607.4 L1383.0 603.1 L1384.0 598.5 L1385.0 593.6 L1386.0 588.5 L1387.0 583.2 L1388.0 577.7 L1389.0 572.0 L1390.0 566.1 L1391.0 560.0 L1392.0 553.7 L1393.0 547.3 L1394.0 540.8 L1395.0 534.1 L1396.0 527.4 L1397.0 520.5 L1398.0 513.6 L1399.0 506.6 L1400.0 499.5 L1401.0 492.5 L1402.0 485.4 L1403.0 478.3 L1404.0 471.2 L1405.0 464.2 L1406.0 457.2 L1407.0 450.3 L1408.0 443.4 L1409.0 436.7 L1410.0 430.0 L1411.0 423.5 L1412.0 417.1 L1413.0 410.9 L1414.0 404.8 L1415.0 398.9 L1416.0 393.2 L1417.0 387.7 L1418.0 382.4 L1419.0 377.3 L1420.0 372.5 L1421.0 367.9 L1422.0 363.6 L1423.0 359.6 L1424.0 355.8 L1425.0 352.3 L1426.0 349.1 L1427.0 346.2 L1428.0 343.6 L1429.0 341.3 L1430.0 339.4 L1431.0 337.7 L1432.0 336.4 L1433.0 335.4 L1434.0 334.7 L1435.0 334.4 L1436.0 334.4 L1437.0 334.8 L1438.0 335.6 L1439.0 336.9 L1440.0 338.5 L1441.0 340.5 L1442.0 342.9 L1443.0 345.7 L1444.0 348.8 L1445.0 352.4 L1446.0 356.2 L1447.0 360.4 L1448.0 364.9 L1449.0 369.7 L1450.0 374.8 L1451.0 380.2 L1452.0 385.8 L1453.0 391.7 L1454.0 397.7 L1455.0 403.9 L1456.0 410.3 L1457.0 416.9 L1458.0 423.6 L1459.0 430.3 L1460.0 437.1 L1461.0 444.0 L1462.0 450.9 L1463.0 457.8 L1464.0 464.7 L1465.0 471.6 L1466.0 478.3 L1467.0 485.0 L1468.0 491.5 L1469.0 497.9 L1470.0 504.2 L1471.0 510.2 L1472.0 516.1 L1473.0 521.7 L1474.0 527.0 L1475.0 532.1 L1476.0 536.9 L1477.0 541.5 L1478.0 545.6 L1479.0 549.5 L1480.0 553.0 L1481.0 556.2 L1482.0 559.0 L1483.0 561.4 L1484.0 563.4 L1485.0 565.0 L1486.0 566.2 L1487.0 567.0 L1488.0 567.5 L1489.0 567.5 L1490.0 567.3 L1491.0 567.0 L1492.0 566.5 L1493.0 565.9 L1494.0 565.1 L1495.0 564.2 L1496.0 563.1 L1497.0 561.9 L1498.0 560.5 L1499.0 559.0 L1500.0 557.3 L1501.0 555.6 L1502.0 553.6 L1503.0 551.6 L1504.0 549.4 L1505.0 547.1 L1506.0 544.7 L1507.0 542.2 L1508.0 539.6 L1509.0 536.8 L1510.0 534.0 L1511.0 531.1 L1512.0 528.1 L1513.0 525.1 L1514.0 522.0 L1515.0 518.8 L1516.0 515.5 L1517.0 512.3 L1518.0 508.9 L1519.0 505.6 L1520.0 502.2 L1521.0 498.8 L1522.0 495.4 L1523.0 491.9 L1524.0 488.5 L1525.0 485.1 L1526.0 481.7 L1527.0 478.3 L1528.0 475.0 L1529.0 471.7 L1530.0 468.4 L1531.0 465.2 L1532.0 462.1 L1533.0 459.0 L1534.0 456.0 L1535.0 453.1 L1536.0 450.2 L1537.0 447.5 L1538.0 444.8 L1539.0 442.2 L1540.0 439.8 L1541.0 437.4 L1542.0 435.2 L1543.0 433.1 L1544.0 431.1 L1545.0 429.3 L1546.0 427.6 L1547.0 426.0 L1548.0 424.6 L1549.0 423.3 L1550.0 422.1 L1551.0 421.2 L1552.0 420.3 L1553.0 419.6 L1554.0 419.1 L1555.0 418.7 L1556.0 418.5 L1557.0 418.4 L1558.0 418.6 L1559.0 419.0 L1560.0 419.6 L1561.0 420.4 L1562.0 421.5 L1563.0 422.8 L1564.0 424.3 L1565.0 426.0 L1566.0 427.9 L1567.0 430.0 L1568.0 432.3 L1569.0 434.7 L1570.0 437.2 L1571.0 439.9 L1572.0 442.7 L1573.0 445.6 L1574.0 448.6 L1575.0 451.6 L1576.0 454.7 L1577.0 457.8 L1578.0 460.9 L1579.0 464.1 L1580.0 467.1 L1581.0 470.2 L1582.0 473.1 L1583.0 476.0 L1584.0 478.8 L1585.0 481.5 L1586.0 484.0 L1587.0 486.4 L1588.0 488.7 L1589.0 490.8 L1590.0 492.6 L1591.0 494.3 L1592.0 495.8 L1593.0 497.1 L1594.0 498.1 L1595.0 499.0 L1596.0 499.6 L1597.0 499.9 L1598.0 500.0 L1599.0 500.0 L1600.0 499.9 L1601.0 499.7 L1602.0 499.5 L1603.0 499.2 L1604.0 498.8 L1605.0 498.4 L1606.0 497.9 L1607.0 497.4 L1608.0 496.8 L1609.0 496.2 L1610.0 495.5 L1611.0 494.8 L1612.0 494.0 L1613.0 493.2 L1614.0 492.4 L1615.0 491.6 L1616.0 490.8 L1617.0 490.0 L1618.0 489.1 L1619.0 488.3 L1620.0 487.5 L1621.0 486.7 L1622.0 485.9 L1623.0 485.2 L1624.0 484.5 L1625.0 483.8 L1626.0 483.1 L1627.0 482.6 L1628.0 482.0 L1629.0 481.5 L1630.0 481.1 L1631.0 480.7 L1632.0 480.4 L1633.0 480.2 L1634.0 480.0 L1635.0 479.9 L1636.0 479.9 L1637.0 479.9 L1638.0 480.0 L1639.0 480.2 L1640.0 480.5 L1641.0 480.8 L1642.0 481.2 L1643.0 481.6 L1644.0 482.1 L1645.0 482.7 L1646.0 483.4 L1647.0 484.1 L1648.0 484.8 L1649.0 485.6 L1650.0 486.5 L1651.0 487.3 L1652.0 488.3 L1653.0 489.2 L1654.0 490.2 L1655.0 491.2 L1656.0 492.3 L1657.0 493.4 L1658.0 494.4 L1659.0 495.5 L1660.0 496.6 L1661.0 497.7 L1662.0 498.8 L1663.0 499.8 L1664.0 500.9 L1665.0 501.9 L1666.0 502.9 L1667.0 503.9 L1668.0 504.8 L1669.0 505.8 L1670.0 506.6 L1671.0 507.4 L1672.0 508.2 L1673.0 508.9 L1674.0 509.6 L1675.0 510.2 L1676.0 510.8 L1677.0 511.3 L1678.0 511.7 L1679.0 512.0 L1680.0 512.3 L1681.0 512.5 L1682.0 512.7 L1683.0 512.7 L1684.0 512.7 L1685.0 512.7 L1686.0 512.6 L1687.0 512.5 L1688.0 512.4 L1689.0 512.2 L1690.0 511.9 L1691.0 511.6 L1692.0 511.3 L1693.0 511.0 L1694.0 510.6 L1695.0 510.2 L1696.0 509.7 L1697.0 509.2 L1698.0 508.7 L1699.0 508.1 L1700.0 507.5 L1701.0 506.9 L1702.0 506.2 L1703.0 505.5" stroke="#000" stroke-width="6.3" stroke-dasharray="24.0 8.3 11.5 8.3 25.6 8.9 12.3 8.9 23.1 8.1 11.1 8.1 25.8 9.0 12.4 9.0 23.5 8.2 11.3 8.2 25.8 9.0 12.4 9.0 22.5 7.8 10.8 7.8 24.7 8.6 11.9 8.6 24.9 8.6 11.9 8.6 24.9 8.6 11.9 8.6 24.9 8.6 11.9 8.6 24.9 8.6 11.9 8.6 24.9 8.6 11.9 8.6 24.9 8.6 11.9 8.6 24.9 8.6 11.9 8.6 24.9 8.6 11.9 8.6 24.9 8.6 11.9 8.6 24.0 8.4 11.5 8.4 23.4 8.1 11.2 8.1 24.9 8.7 12.0 8.7 24.9 8.7 12.0 8.7 24.9 8.7 12.0 8.7 24.9 8.7 12.0 8.7 24.9 8.7 12.0 8.7 24.9 8.7 12.0 8.7 24.9 8.7 12.0 8.7 24.9 8.7 12.0 8.7 24.9 8.7 12.0 8.7 24.9 8.7 12.0 8.7 24.9 8.7 12.0 8.7 24.9 8.7 12.0 8.7 24.9 8.7 12.0 8.7 24.9 8.7 12.0 8.7 24.9 8.7 12.0 8.7 24.5 8.5 11.8 8.5 21.2 7.4 10.2 7.4 24.9 8.7 12.0 8.7 24.9 8.7 12.0 8.7 24.9 8.7 12.0 8.7 24.9 8.7 12.0 8.7 24.9 8.7 12.0 8.7 24.9 8.7 12.0 8.7 24.9 8.7 12.0 8.7 24.9 8.7 12.0 8.7 24.9 8.7 12.0 8.7 24.9 8.7 12.0 8.7 24.9 8.7 12.0 8.7 24.9 8.7 12.0 8.7 24.9 8.7 12.0 8.7 24.9 8.7 12.0 8.7 24.9 8.7 12.0 8.7 24.9 8.7 12.0 8.7 24.9 8.7 12.0 8.7 24.9 8.7 12.0 8.7 24.9 8.7 12.0 8.7 23.4 8.1 11.2 8.1 24.8 8.6 11.9 8.6 24.8 8.6 11.9 8.6 24.8 8.6 11.9 8.6 24.8 8.6 11.9 8.6 24.8 8.6 11.9 8.6 24.8 8.6 11.9 8.6 24.8 8.6 11.9 8.6 24.8 8.6 11.9 8.6 24.8 8.6 11.9 8.6 24.8 8.6 11.9 8.6 24.8 8.6 11.9 8.6 24.8 8.6 11.9 8.6 24.8 8.6 11.9 8.6 24.8 8.6 11.9 8.6 24.8 8.6 11.9 8.6 24.8 8.6 11.9 8.6 24.8 8.6 11.9 8.6 24.8 8.6 11.9 8.6 24.8 8.6 11.9 8.6 24.8 8.6 11.9 8.6 24.8 8.6 11.9 8.6 24.8 8.6 11.9 8.6 21.3 7.4 10.2 7.4 25.0 8.7 12.0 8.7 25.0 8.7 12.0 8.7 25.0 8.7 12.0 8.7 25.0 8.7 12.0 8.7 25.0 8.7 12.0 8.7 25.0 8.7 12.0 8.7 25.0 8.7 12.0 8.7 25.0 8.7 12.0 8.7 25.0 8.7 12.0 8.7 25.0 8.7 12.0 8.7 25.0 8.7 12.0 8.7 25.0 8.7 12.0 8.7 25.0 8.7 12.0 8.7 25.0 8.7 12.0 8.7 25.0 8.7 12.0 8.7 25.0 8.7 12.0 8.7 25.0 8.7 12.0 8.7 25.0 8.7 12.0 8.7 25.0 8.7 12.0 8.7 25.0 8.7 12.0 8.7 25.0 8.7 12.0 8.7 25.0 8.7 12.0 8.7 25.0 8.7 12.0 8.7 23.3 8.1 11.2 8.1 24.9 8.7 12.0 8.7 24.9 8.7 12.0 8.7 24.9 8.7 12.0 8.7 24.9 8.7 12.0 8.7 24.9 8.7 12.0 8.7 24.9 8.7 12.0 8.7 24.9 8.7 12.0 8.7 24.9 8.7 12.0 8.7 24.9 8.7 12.0 8.7 24.9 8.7 12.0 8.7 24.9 8.7 12.0 8.7 24.9 8.7 12.0 8.7 24.9 8.7 12.0 8.7 24.9 8.7 12.0 8.7 24.9 8.7 12.0 8.7 24.9 8.7 12.0 8.7 24.9 8.7 12.0 8.7 24.9 8.7 12.0 8.7 24.9 8.7 12.0 8.7 24.9 8.7 12.0 8.7 24.9 8.7 12.0 8.7 24.9 8.7 12.0 8.7 22.3 7.7 10.7 7.7 25.0 8.7 12.0 8.7 25.0 8.7 12.0 8.7 25.0 8.7 12.0 8.7 25.0 8.7 12.0 8.7 25.0 8.7 12.0 8.7 25.0 8.7 12.0 8.7 25.0 8.7 12.0 8.7 25.0 8.7 12.0 8.7 25.0 8.7 12.0 8.7 25.0 8.7 12.0 8.7 25.0 8.7 12.0 8.7 25.0 8.7 12.0 8.7 25.0 8.7 12.0 8.7 25.0 8.7 12.0 8.7 25.0 8.7 12.0 8.7 25.0 8.7 12.0 8.7 25.0 8.7 12.0 8.7 25.0 8.7 12.0 8.7 25.0 8.7 12.0 8.7 25.0 8.7 12.0 8.7 22.2 7.7 10.7 7.7 24.8 8.6 11.9 8.6 24.8 8.6 11.9 8.6 24.8 8.6 11.9 8.6 24.8 8.6 11.9 8.6 24.8 8.6 11.9 8.6 24.8 8.6 11.9 8.6 24.8 8.6 11.9 8.6 24.8 8.6 11.9 8.6 24.8 8.6 11.9 8.6 24.8 8.6 11.9 8.6 24.8 8.6 11.9 8.6 24.8 8.6 11.9 8.6 24.8 8.6 11.9 8.6 24.8 8.6 11.9 8.6 24.8 8.6 11.9 8.6 24.8 8.6 11.9 8.6 26.0 9.0 12.5 9.0 24.4 8.5 11.7 8.5 24.7 8.6 11.8 8.6 24.7 8.6 11.8 8.6 24.7 8.6 11.8 8.6 24.7 8.6 11.8 8.6 24.7 8.6 11.8 8.6 24.7 8.6 11.8 8.6 24.7 8.6 11.8 8.6 24.7 8.6 11.8 8.6 24.7 8.6 11.8 8.6 24.7 8.6 11.8 8.6 24.7 8.6 11.8 8.6 25.6 8.9 12.3 8.9 23.9 8.3 11.5 8.3 24.6 8.6 11.8 8.6 24.6 8.6 11.8 8.6 24.6 8.6 11.8 8.6 24.6 8.6 11.8 8.6 24.6 8.6 11.8 8.6 24.6 8.6 11.8 8.6 24.6 8.6 11.8 8.6 24.8 8.6 11.9 8.6 26.2 9.1 12.6 9.1 24.1 8.4 11.6 8.4 25.0 8.7 12.0 8.7 25.0 8.7 12.0 8.7"/>
</g>
<rect x="219.0" y="157" width="1484.5" height="741.5" fill="none" stroke="#262626" stroke-width="6.5"/>
<path d="M219.0 721.9H238.0M1703.5 721.9H1684.5M219.0 545.2H238.0M1703.5 545.2H1684.5M219.0 368.6H238.0M1703.5 368.6H1684.5M219.0 192.0H238.0M1703.5 192.0H1684.5M590.1 898.5V879.5M590.1 157.0V175.0M961.2 898.5V879.5M961.2 157.0V175.0M1332.4 898.5V879.5M1332.4 157.0V175.0" stroke="#262626" stroke-width="5" fill="none"/>
<text transform="translate(202.2,129.3) scale(0.977,1)" font-size="59.0">0</text>
<text x="516.2" y="128.3" font-size="59.0" textLength="148.9" lengthAdjust="spacing">1.827</text>
<text x="886.0" y="127.2" font-size="59.0" textLength="148.2" lengthAdjust="spacing">3.654</text>
<text x="1258.4" y="128.8" font-size="59.0" textLength="148.6" lengthAdjust="spacing">5.481</text>
<text x="1630.0" y="127.8" font-size="59.0" textLength="151.0" lengthAdjust="spacing">7.308</text>
<text transform="translate(917.0,59.9) scale(1.250,1)" font-size="57.8" font-family="&quot;Liberation Serif&quot;, serif" font-style="italic">μ</text>
<text transform="translate(951.4,59.9) scale(1.039,1)" font-size="61.9">m</text>
<text transform="translate(167.5,213.2) scale(0.932,1)" font-size="59.0">2</text>
<text x="119.5" y="390.0" font-size="59.0" textLength="78.4" lengthAdjust="spacing">1.5</text>
<text transform="translate(170.4,565.6) scale(0.831,1)" font-size="59.0">1</text>
<text x="117.8" y="742.5" font-size="59.0" textLength="80.1" lengthAdjust="spacing">0.5</text>
<text transform="translate(166.9,920.4) scale(0.994,1)" font-size="59.0">0</text>
<text transform="translate(202.5,969.4) scale(1.023,1)" font-size="59.0">0</text>
<text x="504.8" y="969.0" font-size="59.0" textLength="114.2" lengthAdjust="spacing">0.25</text>
<text transform="translate(626.2,969.4) scale(1.226,1)" font-size="56.0" font-family="&quot;Liberation Serif&quot;, serif" font-style="italic">λ</text>
<text transform="translate(652.5,993.9) scale(0.967,1)" font-size="43.5">s</text>
<text x="893.4" y="968.9" font-size="59.0" textLength="79.7" lengthAdjust="spacing">0.5</text>
<text transform="translate(980.0,968.7) scale(1.203,1)" font-size="56.0" font-family="&quot;Liberation Serif&quot;, serif" font-style="italic">λ</text>
<text transform="translate(1008.4,994.5) scale(0.919,1)" font-size="43.5">s</text>
<text x="1247.2" y="969.0" font-size="59.0" textLength="115.4" lengthAdjust="spacing">0.75</text>
<text transform="translate(1367.0,969.0) scale(1.236,1)" font-size="56.0" font-family="&quot;Liberation Serif&quot;, serif" font-style="italic">λ</text>
<text transform="translate(1395.0,994.0) scale(0.944,1)" font-size="43.5">s</text>
<text transform="translate(1679.8,967.7) scale(1.189,1)" font-size="56.0" font-family="&quot;Liberation Serif&quot;, serif" font-style="italic">λ</text>
<text transform="translate(1709.3,993.5) scale(0.922,1)" font-size="43.5">s</text>
<text x="801.5" y="1057.3" font-size="53.0" textLength="301.0" lengthAdjust="spacing">Piston error</text>
<text transform="translate(94.4,842.2) rotate(-90)" font-size="61.3" textLength="628.4" lengthAdjust="spacing">Correlation coefficient</text>
<text x="888.6" y="1144.1" font-size="52.5" textLength="205.4" lengthAdjust="spacingAndGlyphs">SNR=0.1</text>
<text x="1228.9" y="1144.4" font-size="52.5" textLength="157.3" lengthAdjust="spacingAndGlyphs">SNR=5</text>
<text x="1522.8" y="1144.4" font-size="52.5" textLength="189.7" lengthAdjust="spacingAndGlyphs">SNR=20</text>
<path d="M774.4 1125H801.3M828.2 1125H854.9M872.2 1125H880.1" stroke="#d41219" stroke-width="7"/>
<path d="M1114.1 1125H1218.8" stroke="#0a0ac0" stroke-width="7"/>
<path d="M1407.8 1125H1432.8M1442.5 1125H1452.4M1461.8 1125H1487.1M1497.8 1125H1507.2" stroke="#000" stroke-width="6.5"/>
</g></svg></body></html>
